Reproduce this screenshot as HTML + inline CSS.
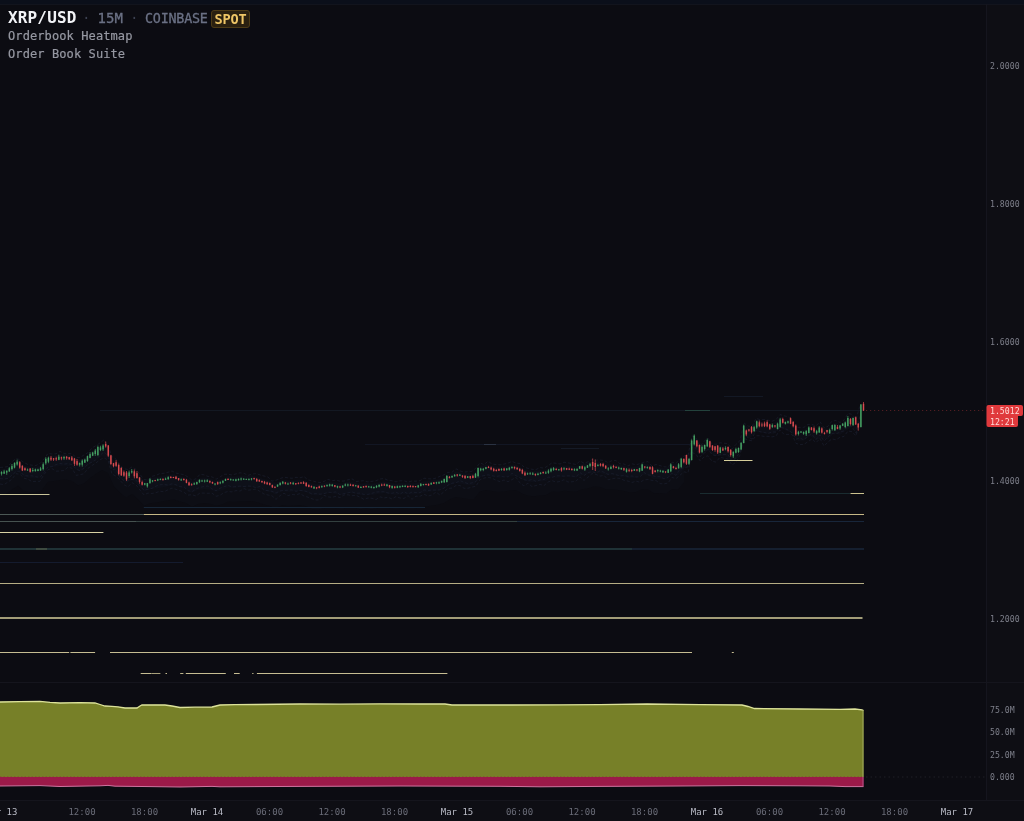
<!DOCTYPE html>
<html><head><meta charset="utf-8"><title>XRP/USD Orderbook Heatmap</title>
<style>
html,body{margin:0;padding:0;background:#0c0c12;}
body{width:1024px;height:821px;overflow:hidden;position:relative;font-family:"DejaVu Sans Mono","Liberation Mono",monospace;}
#top{position:absolute;left:0;top:0;width:1024px;height:4px;background:#0b0f1a;border-bottom:1px solid #12141d;}
#chart{position:absolute;left:0;top:0;}
.hdr{position:absolute;left:8px;top:8px;height:20px;line-height:20px;white-space:nowrap;}
.sym{font-size:16px;font-weight:bold;color:#f2f3f7;letter-spacing:0.15px;}
.dim{font-size:13.4px;color:#6b7185;letter-spacing:-0.23px;-webkit-text-stroke:0.3px #6b7185;top:9px;}
.tf{font-size:14px;letter-spacing:0;top:7.6px;}
.dot{color:#3d4252;-webkit-text-stroke:0;}
.spot{position:absolute;left:211px;top:10px;width:39px;height:18px;box-sizing:border-box;border:1px solid #4d3b16;border-radius:3px;background:#2a2010;color:#eec566;font-size:13.6px;font-weight:bold;line-height:16px;text-align:center;letter-spacing:-0.2px;}
.sub{position:absolute;left:8px;font-size:12px;color:#9698a2;white-space:nowrap;line-height:14px;letter-spacing:0.1px;-webkit-text-stroke:0.2px #9698a2;}
</style></head><body>
<div id="top"></div>
<svg id="chart" width="1024" height="821" viewBox="0 0 1024 821">
<polygon fill="#141828" opacity="0.16" points="0.0,469.0 6.0,468.0 12.0,463.5 18.0,459.7 24.0,464.8 30.0,466.2 36.0,466.3 42.0,464.0 48.0,455.8 54.0,454.9 60.0,454.0 66.0,453.6 72.0,455.0 78.0,459.2 84.0,457.6 90.0,452.0 96.0,447.8 102.0,444.0 108.0,446.9 114.0,460.5 120.0,466.5 126.0,471.7 132.0,468.0 138.0,473.3 144.0,479.8 150.0,477.2 156.0,476.4 162.0,475.4 168.0,474.3 174.0,473.5 180.0,475.6 186.0,477.0 192.0,480.7 198.0,478.0 204.0,477.0 210.0,477.8 216.0,479.7 222.0,478.5 228.0,475.4 234.0,476.0 240.0,475.2 246.0,475.3 252.0,474.9 258.0,476.5 264.0,478.4 270.0,480.0 276.0,482.6 282.0,479.0 288.0,480.0 294.0,479.6 300.0,479.0 306.0,480.3 312.0,483.0 318.0,483.5 324.0,482.2 330.0,481.0 336.0,482.3 342.0,483.0 348.0,481.0 354.0,481.5 360.0,483.2 366.0,482.6 372.0,483.2 378.0,482.0 384.0,481.0 390.0,482.3 396.0,483.1 402.0,482.3 408.0,482.5 414.0,482.6 420.0,481.4 426.0,480.6 432.0,479.6 438.0,478.8 444.0,477.0 450.0,473.2 456.0,471.0 462.0,472.0 468.0,473.0 474.0,473.0 480.0,465.4 486.0,464.0 492.0,465.0 498.0,466.1 504.0,465.4 510.0,464.4 516.0,464.1 522.0,467.5 528.0,469.8 534.0,470.3 540.0,469.5 546.0,469.0 552.0,465.5 558.0,466.0 564.0,464.8 570.0,465.3 576.0,465.8 582.0,463.3 588.0,462.3 594.0,460.6 600.0,461.0 606.0,463.3 612.0,463.2 618.0,464.0 624.0,465.0 630.0,466.5 636.0,466.0 642.0,463.2 648.0,463.5 654.0,467.2 660.0,467.0 666.0,467.8 672.0,463.0 678.0,463.5 684.0,456.5 684.0,482.5 678.0,489.5 672.0,489.0 666.0,493.8 660.0,493.0 654.0,493.2 648.0,489.5 642.0,489.2 636.0,492.0 630.0,492.5 624.0,491.0 618.0,490.0 612.0,489.2 606.0,489.3 600.0,487.0 594.0,486.6 588.0,488.3 582.0,489.3 576.0,491.8 570.0,491.3 564.0,490.8 558.0,492.0 552.0,491.5 546.0,495.0 540.0,495.5 534.0,496.3 528.0,495.8 522.0,493.5 516.0,490.1 510.0,490.4 504.0,491.4 498.0,492.1 492.0,491.0 486.0,490.0 480.0,491.4 474.0,499.0 468.0,499.0 462.0,498.0 456.0,497.0 450.0,499.2 444.0,503.0 438.0,504.8 432.0,505.6 426.0,506.6 420.0,507.4 414.0,508.6 408.0,508.5 402.0,508.3 396.0,509.1 390.0,508.3 384.0,507.0 378.0,508.0 372.0,509.2 366.0,508.6 360.0,509.2 354.0,507.5 348.0,507.0 342.0,509.0 336.0,508.3 330.0,507.0 324.0,508.2 318.0,509.5 312.0,509.0 306.0,506.3 300.0,505.0 294.0,505.6 288.0,506.0 282.0,505.0 276.0,508.6 270.0,506.0 264.0,504.4 258.0,502.5 252.0,500.9 246.0,501.3 240.0,501.2 234.0,502.0 228.0,501.4 222.0,504.5 216.0,505.7 210.0,503.8 204.0,503.0 198.0,504.0 192.0,506.7 186.0,503.0 180.0,501.6 174.0,499.5 168.0,500.3 162.0,501.4 156.0,502.4 150.0,503.2 144.0,505.8 138.0,499.3 132.0,494.0 126.0,497.7 120.0,492.5 114.0,486.5 108.0,472.9 102.0,470.0 96.0,473.8 90.0,478.0 84.0,483.6 78.0,485.2 72.0,481.0 66.0,479.6 60.0,480.0 54.0,480.9 48.0,481.8 42.0,490.0 36.0,492.3 30.0,492.2 24.0,490.8 18.0,485.7 12.0,489.5 6.0,494.0 0.0,495.0"/>
<polygon fill="#161c30" opacity="0.16" points="0.0,470.0 6.0,469.0 12.0,464.5 18.0,460.7 24.0,465.8 30.0,467.2 36.0,467.3 42.0,465.0 48.0,456.8 54.0,455.9 60.0,455.0 66.0,454.6 72.0,456.0 78.0,460.2 84.0,458.6 90.0,453.0 96.0,448.8 102.0,445.0 108.0,447.9 114.0,461.5 120.0,467.5 126.0,472.7 132.0,469.0 138.0,474.3 144.0,480.8 150.0,478.2 156.0,477.4 162.0,476.4 168.0,475.3 174.0,474.5 180.0,476.6 186.0,478.0 192.0,481.7 198.0,479.0 204.0,478.0 210.0,478.8 216.0,480.7 222.0,479.5 228.0,476.4 234.0,477.0 240.0,476.2 246.0,476.3 252.0,475.9 258.0,477.5 264.0,479.4 270.0,481.0 276.0,483.6 282.0,480.0 288.0,481.0 294.0,480.6 300.0,480.0 306.0,481.3 312.0,484.0 318.0,484.5 324.0,483.2 330.0,482.0 336.0,483.3 342.0,484.0 348.0,482.0 354.0,482.5 360.0,484.2 366.0,483.6 372.0,484.2 378.0,483.0 384.0,482.0 390.0,483.3 396.0,484.1 402.0,483.3 408.0,483.5 414.0,483.6 420.0,482.4 426.0,481.6 432.0,480.6 438.0,479.8 444.0,478.0 450.0,474.2 456.0,472.0 462.0,473.0 468.0,474.0 474.0,474.0 480.0,466.4 486.0,465.0 492.0,466.0 498.0,467.1 504.0,466.4 510.0,465.4 516.0,465.1 522.0,468.5 528.0,470.8 534.0,471.3 540.0,470.5 546.0,470.0 552.0,466.5 558.0,467.0 564.0,465.8 570.0,466.3 576.0,466.8 582.0,464.3 588.0,463.3 594.0,461.6 600.0,462.0 606.0,464.3 612.0,464.2 618.0,465.0 624.0,466.0 630.0,467.5 636.0,467.0 642.0,464.2 648.0,464.5 654.0,468.2 660.0,468.0 666.0,468.8 672.0,464.0 678.0,464.5 684.0,457.5 690.0,450.7 696.0,439.2 702.0,444.0 708.0,439.9 714.0,445.2 720.0,445.0 726.0,445.7 732.0,451.3 738.0,447.0 744.0,424.2 750.0,427.8 756.0,421.1 762.0,422.0 768.0,422.8 774.0,423.0 780.0,416.5 786.0,419.8 792.0,422.0 798.0,430.0 804.0,429.8 810.0,425.3 816.0,429.0 822.0,427.8 828.0,428.4 834.0,422.5 840.0,424.0 846.0,419.7 852.0,416.0 858.0,420.7 858.0,431.7 852.0,427.0 846.0,430.7 840.0,435.0 834.0,433.5 828.0,439.4 822.0,438.8 816.0,440.0 810.0,436.3 804.0,440.8 798.0,441.0 792.0,433.0 786.0,430.8 780.0,427.5 774.0,434.0 768.0,433.8 762.0,433.0 756.0,432.1 750.0,438.8 744.0,435.2 738.0,458.0 732.0,462.3 726.0,456.7 720.0,456.0 714.0,456.2 708.0,450.9 702.0,455.0 696.0,450.2 690.0,461.7 684.0,468.5 678.0,475.5 672.0,475.0 666.0,479.8 660.0,479.0 654.0,479.2 648.0,475.5 642.0,475.2 636.0,478.0 630.0,478.5 624.0,477.0 618.0,476.0 612.0,475.2 606.0,475.3 600.0,473.0 594.0,472.6 588.0,474.3 582.0,475.3 576.0,477.8 570.0,477.3 564.0,476.8 558.0,478.0 552.0,477.5 546.0,481.0 540.0,481.5 534.0,482.3 528.0,481.8 522.0,479.5 516.0,476.1 510.0,476.4 504.0,477.4 498.0,478.1 492.0,477.0 486.0,476.0 480.0,477.4 474.0,485.0 468.0,485.0 462.0,484.0 456.0,483.0 450.0,485.2 444.0,489.0 438.0,490.8 432.0,491.6 426.0,492.6 420.0,493.4 414.0,494.6 408.0,494.5 402.0,494.3 396.0,495.1 390.0,494.3 384.0,493.0 378.0,494.0 372.0,495.2 366.0,494.6 360.0,495.2 354.0,493.5 348.0,493.0 342.0,495.0 336.0,494.3 330.0,493.0 324.0,494.2 318.0,495.5 312.0,495.0 306.0,492.3 300.0,491.0 294.0,491.6 288.0,492.0 282.0,491.0 276.0,494.6 270.0,492.0 264.0,490.4 258.0,488.5 252.0,486.9 246.0,487.3 240.0,487.2 234.0,488.0 228.0,487.4 222.0,490.5 216.0,491.7 210.0,489.8 204.0,489.0 198.0,490.0 192.0,492.7 186.0,489.0 180.0,487.6 174.0,485.5 168.0,486.3 162.0,487.4 156.0,488.4 150.0,489.2 144.0,491.8 138.0,485.3 132.0,480.0 126.0,483.7 120.0,478.5 114.0,472.5 108.0,458.9 102.0,456.0 96.0,459.8 90.0,464.0 84.0,469.6 78.0,471.2 72.0,467.0 66.0,465.6 60.0,466.0 54.0,466.9 48.0,467.8 42.0,476.0 36.0,478.3 30.0,478.2 24.0,476.8 18.0,471.7 12.0,475.5 6.0,480.0 0.0,481.0"/>
<polyline fill="none" stroke="#1b2030" stroke-width="0.8" opacity="0.8" stroke-dasharray="3 2" points="0.0,467.4 4.0,467.2 8.0,466.5 12.0,461.9 16.0,458.4 20.0,459.7 24.0,462.5 28.0,464.6 32.0,465.2 36.0,465.5 40.0,463.5 44.0,458.9 48.0,453.4 52.0,454.0 56.0,453.8 60.0,451.4 64.0,453.4 68.0,453.4 72.0,453.9 76.0,457.3 80.0,457.7 84.0,454.9 88.0,452.6 92.0,448.0 96.0,445.6 100.0,442.9 104.0,439.9 108.0,445.4 112.0,456.6 116.0,459.1 120.0,465.1 124.0,468.8 128.0,469.5 132.0,466.9 136.0,469.4 140.0,474.4 144.0,479.5 148.0,479.8 152.0,476.3 156.0,475.4 160.0,473.5 164.0,473.3 168.0,472.3 172.0,471.0 176.0,473.1 180.0,473.9 184.0,474.7 188.0,477.1 192.0,480.3 196.0,478.7 200.0,474.3 204.0,474.8 208.0,476.5 212.0,476.9 216.0,479.3 220.0,477.0 224.0,474.3 228.0,474.2 232.0,475.0 236.0,473.9 240.0,472.8 244.0,473.3 248.0,475.4 252.0,474.1 256.0,473.6 260.0,474.9 264.0,476.0 268.0,477.0 272.0,481.1 276.0,480.3 280.0,478.6 284.0,477.2 288.0,477.8 292.0,478.3 296.0,477.3 300.0,477.8 304.0,476.6 308.0,479.9 312.0,480.8 316.0,481.9 320.0,482.6 324.0,481.4 328.0,479.4 332.0,480.7 336.0,480.1 340.0,481.2 344.0,481.0 348.0,479.8 352.0,478.8 356.0,481.6 360.0,481.0 364.0,480.7 368.0,482.0 372.0,481.3 376.0,480.8 380.0,479.0 384.0,478.5 388.0,480.3 392.0,480.7 396.0,481.9 400.0,480.8 404.0,480.8 408.0,482.1 412.0,481.0 416.0,481.2 420.0,480.7 424.0,478.2 428.0,478.7 432.0,479.0 436.0,478.1 440.0,476.3 444.0,474.8 448.0,472.4 452.0,472.3 456.0,468.8 460.0,470.9 464.0,472.1 468.0,471.7 472.0,471.3 476.0,467.9 480.0,462.8 484.0,464.7 488.0,461.2 492.0,464.0 496.0,464.5 500.0,464.9 504.0,464.1 508.0,463.1 512.0,461.4 516.0,463.1 520.0,463.5 524.0,467.0 528.0,468.4 532.0,469.3 536.0,469.6 540.0,467.5 544.0,468.2 548.0,465.8 552.0,462.8 556.0,463.3 560.0,464.0 564.0,462.2 568.0,462.8 572.0,463.7 576.0,464.5 580.0,461.0 584.0,463.2 588.0,461.8 592.0,459.5 596.0,460.1 600.0,460.0 604.0,460.5 608.0,462.6 612.0,460.6 616.0,460.6 620.0,463.8 624.0,464.0 628.0,466.0 632.0,463.8 636.0,464.8 640.0,463.7 644.0,462.1 648.0,461.6 652.0,466.1 656.0,464.5 660.0,465.6 664.0,466.8 668.0,467.0 672.0,462.1 676.0,463.5 680.0,458.7 684.0,456.0 688.0,455.5 692.0,435.9 696.0,437.7 700.0,446.4 704.0,441.3 708.0,438.1 712.0,443.9 716.0,444.3 720.0,442.8 724.0,443.2 728.0,443.7 732.0,449.1 736.0,444.3 740.0,440.5 744.0,422.9 748.0,426.1 752.0,426.5 756.0,418.4 760.0,419.6 764.0,419.5 768.0,420.2 772.0,421.3 776.0,419.7 780.0,414.6 784.0,415.8 788.0,416.7 792.0,419.5 796.0,427.7 800.0,427.3 804.0,427.3 808.0,424.4 812.0,424.5 816.0,425.9 820.0,421.8 824.0,427.8 828.0,426.3 832.0,421.1 836.0,420.5 840.0,422.5 844.0,420.1 848.0,413.4 852.0,414.4 856.0,419.3 860.0,405.4"/>
<polyline fill="none" stroke="#1b2030" stroke-width="0.8" opacity="0.8" stroke-dasharray="3 2" points="0.0,478.6 4.0,478.9 8.0,478.4 12.0,475.2 16.0,471.5 20.0,471.2 24.0,475.5 28.0,476.0 32.0,475.8 36.0,476.8 40.0,477.5 44.0,472.4 48.0,467.0 52.0,466.6 56.0,464.6 60.0,463.5 64.0,464.1 68.0,463.6 72.0,464.6 76.0,468.7 80.0,470.9 84.0,468.1 88.0,463.9 92.0,462.1 96.0,459.7 100.0,455.4 104.0,451.8 108.0,456.0 112.0,469.8 116.0,468.9 120.0,477.6 124.0,480.7 128.0,480.9 132.0,479.4 136.0,480.0 140.0,485.8 144.0,490.2 148.0,489.2 152.0,488.4 156.0,486.1 160.0,484.8 164.0,484.5 168.0,485.1 172.0,483.8 176.0,484.8 180.0,486.6 184.0,486.8 188.0,490.7 192.0,491.7 196.0,488.9 200.0,487.4 204.0,486.5 208.0,486.0 212.0,488.9 216.0,490.8 220.0,488.3 224.0,486.7 228.0,485.4 232.0,487.0 236.0,486.6 240.0,486.1 244.0,486.5 248.0,486.0 252.0,486.3 256.0,487.7 260.0,486.3 264.0,490.2 268.0,490.7 272.0,491.3 276.0,493.0 280.0,490.9 284.0,490.5 288.0,490.1 292.0,489.9 296.0,491.3 300.0,490.4 304.0,490.8 308.0,492.0 312.0,494.0 316.0,493.6 320.0,494.2 324.0,493.7 328.0,492.3 332.0,492.5 336.0,491.9 340.0,494.7 344.0,493.6 348.0,492.9 352.0,491.9 356.0,493.3 360.0,493.1 364.0,494.5 368.0,494.4 372.0,493.3 376.0,492.0 380.0,491.8 384.0,491.7 388.0,493.0 392.0,493.3 396.0,492.2 400.0,494.1 404.0,491.6 408.0,493.9 412.0,492.1 416.0,492.6 420.0,492.7 424.0,489.9 428.0,490.4 432.0,490.1 436.0,490.0 440.0,489.9 444.0,488.1 448.0,485.1 452.0,483.2 456.0,482.8 460.0,480.6 464.0,482.3 468.0,483.6 472.0,482.9 476.0,481.5 480.0,476.3 484.0,475.6 488.0,474.8 492.0,475.7 496.0,476.5 500.0,475.8 504.0,476.9 508.0,476.8 512.0,473.3 516.0,475.7 520.0,477.9 524.0,479.7 528.0,480.5 532.0,479.5 536.0,481.4 540.0,480.0 544.0,479.5 548.0,477.1 552.0,477.4 556.0,475.9 560.0,475.8 564.0,476.2 568.0,475.8 572.0,476.0 576.0,476.9 580.0,472.6 584.0,475.6 588.0,472.6 592.0,471.7 596.0,473.0 600.0,470.8 604.0,472.2 608.0,474.4 612.0,473.5 616.0,474.7 620.0,476.0 624.0,475.4 628.0,476.4 632.0,476.0 636.0,476.9 640.0,477.0 644.0,472.5 648.0,474.9 652.0,475.5 656.0,476.6 660.0,476.7 664.0,478.8 668.0,477.5 672.0,473.1 676.0,475.4 680.0,468.8 684.0,467.7 688.0,466.8 692.0,447.5 696.0,448.0 700.0,456.6 704.0,453.6 708.0,449.2 712.0,454.6 716.0,455.8 720.0,454.6 724.0,454.5 728.0,454.6 732.0,461.2 736.0,457.7 740.0,452.3 744.0,434.8 748.0,437.5 752.0,439.1 756.0,429.8 760.0,431.7 764.0,432.3 768.0,433.5 772.0,431.9 776.0,432.1 780.0,427.3 784.0,428.1 788.0,430.0 792.0,432.7 796.0,439.2 800.0,438.1 804.0,440.0 808.0,435.4 812.0,434.3 816.0,439.5 820.0,434.8 824.0,441.2 828.0,436.8 832.0,433.5 836.0,433.9 840.0,432.1 844.0,430.8 848.0,426.0 852.0,426.7 856.0,433.1 860.0,415.8"/>
<polyline fill="none" stroke="#1b2030" stroke-width="0.8" opacity="0.8" stroke-dasharray="3 2" points="0.0,484.0 4.0,484.6 8.0,482.0 12.0,479.2 16.0,473.7 20.0,474.3 24.0,478.2 28.0,479.2 32.0,481.6 36.0,481.3 40.0,481.3 44.0,474.5 48.0,469.6 52.0,468.6 56.0,471.2 60.0,471.0 64.0,470.4 68.0,467.2 72.0,468.2 76.0,475.3 80.0,474.8 84.0,473.7 88.0,468.3 92.0,465.5 96.0,462.9 100.0,459.7 104.0,457.9 108.0,460.0 112.0,474.0 116.0,476.2 120.0,480.2 124.0,484.8 128.0,486.9 132.0,482.6 136.0,484.8 140.0,490.1 144.0,494.9 148.0,493.1 152.0,493.5 156.0,492.6 160.0,491.2 164.0,491.8 168.0,489.8 172.0,488.1 176.0,489.3 180.0,490.6 184.0,492.3 188.0,495.1 192.0,494.7 196.0,496.0 200.0,493.0 204.0,493.1 208.0,493.3 212.0,493.1 216.0,496.3 220.0,495.3 224.0,492.6 228.0,491.5 232.0,491.9 236.0,490.6 240.0,491.1 244.0,488.5 248.0,490.2 252.0,489.8 256.0,489.0 260.0,491.4 264.0,494.0 268.0,495.0 272.0,495.8 276.0,499.4 280.0,495.7 284.0,493.2 288.0,495.6 292.0,494.5 296.0,494.8 300.0,493.6 304.0,496.0 308.0,497.2 312.0,498.8 316.0,500.0 320.0,499.9 324.0,495.3 328.0,496.9 332.0,497.3 336.0,496.3 340.0,497.6 344.0,494.9 348.0,494.8 352.0,495.7 356.0,495.3 360.0,497.2 364.0,499.4 368.0,498.0 372.0,498.3 376.0,499.6 380.0,496.8 384.0,498.0 388.0,497.2 392.0,499.0 396.0,496.5 400.0,498.0 404.0,498.4 408.0,495.7 412.0,499.3 416.0,496.2 420.0,496.3 424.0,494.2 428.0,496.0 432.0,495.0 436.0,492.0 440.0,495.1 444.0,491.7 448.0,488.4 452.0,488.1 456.0,485.5 460.0,485.5 464.0,488.3 468.0,488.2 472.0,487.1 476.0,486.2 480.0,479.6 484.0,478.1 488.0,477.3 492.0,478.2 496.0,480.2 500.0,481.7 504.0,480.0 508.0,481.7 512.0,479.6 516.0,477.3 520.0,483.0 524.0,485.9 528.0,483.1 532.0,486.6 536.0,485.5 540.0,484.4 544.0,485.6 548.0,482.0 552.0,480.6 556.0,482.1 560.0,481.5 564.0,479.7 568.0,482.0 572.0,481.8 576.0,481.2 580.0,476.9 584.0,480.5 588.0,477.2 592.0,473.6 596.0,474.4 600.0,476.1 604.0,475.3 608.0,479.8 612.0,478.8 616.0,478.1 620.0,478.4 624.0,480.3 628.0,481.1 632.0,482.5 636.0,481.1 640.0,482.3 644.0,479.9 648.0,479.5 652.0,480.4 656.0,480.5 660.0,483.6 664.0,483.9 668.0,483.0 672.0,477.4 676.0,478.6 680.0,475.2 684.0,471.8 688.0,472.8 692.0,452.5 696.0,454.2 700.0,460.8 704.0,457.0 708.0,455.8 712.0,461.2 716.0,462.1 720.0,457.2 724.0,458.2 728.0,459.1 732.0,465.0 736.0,462.3 740.0,455.1 744.0,438.4 748.0,440.0 752.0,440.8 756.0,435.8 760.0,435.7 764.0,436.4 768.0,436.3 772.0,436.9 776.0,436.0 780.0,429.9 784.0,434.4 788.0,434.4 792.0,434.3 796.0,443.3 800.0,444.6 804.0,444.3 808.0,441.7 812.0,438.9 816.0,442.7 820.0,438.5 824.0,446.0 828.0,441.9 832.0,438.9 836.0,439.8 840.0,437.3 844.0,436.4 848.0,431.0 852.0,431.7 856.0,435.9 860.0,420.9"/>
<line x1="100.0" y1="410.5" x2="864.0" y2="410.5" stroke="#131822" stroke-width="1.0" opacity="1"/>
<line x1="685.0" y1="410.5" x2="710.0" y2="410.5" stroke="#23423c" stroke-width="1.0" opacity="1"/>
<line x1="724.0" y1="396.5" x2="763.0" y2="396.5" stroke="#131824" stroke-width="1.0" opacity="1"/>
<line x1="365.0" y1="444.5" x2="690.0" y2="444.5" stroke="#121623" stroke-width="1.0" opacity="1"/>
<line x1="561.0" y1="448.5" x2="599.0" y2="448.5" stroke="#151a26" stroke-width="1.0" opacity="1"/>
<line x1="484.0" y1="444.5" x2="496.0" y2="444.5" stroke="#2a3242" stroke-width="1.0" opacity="1"/>
<line x1="724.0" y1="460.5" x2="752.5" y2="460.5" stroke="#d6ce9a" stroke-width="1.0" opacity="1"/>
<line x1="700.0" y1="493.5" x2="850.0" y2="493.5" stroke="#1a2c30" stroke-width="1.0" opacity="1"/>
<line x1="850.5" y1="493.5" x2="864.0" y2="493.5" stroke="#cbc28e" stroke-width="1.0" opacity="1"/>
<line x1="0.0" y1="494.5" x2="49.5" y2="494.5" stroke="#c9c49a" stroke-width="1.0" opacity="1"/>
<line x1="143.8" y1="507.5" x2="425.0" y2="507.5" stroke="#172637" stroke-width="1.0" opacity="1"/>
<line x1="0.0" y1="514.5" x2="143.8" y2="514.5" stroke="#4c5855" stroke-width="1.0" opacity="1"/>
<line x1="143.8" y1="514.5" x2="864.0" y2="514.5" stroke="#c6b886" stroke-width="1.0" opacity="1"/>
<line x1="0.0" y1="521.5" x2="136.0" y2="521.5" stroke="#465250" stroke-width="1.0" opacity="1"/>
<line x1="136.0" y1="521.5" x2="517.0" y2="521.5" stroke="#33403f" stroke-width="1.0" opacity="1"/>
<line x1="517.0" y1="521.5" x2="864.0" y2="521.5" stroke="#18263a" stroke-width="1.0" opacity="1"/>
<line x1="0.0" y1="532.5" x2="103.4" y2="532.5" stroke="#d8d2a4" stroke-width="1.0" opacity="1"/>
<line x1="0.0" y1="549.0" x2="632.0" y2="549.0" stroke="#1f3236" stroke-width="2.0" opacity="1"/>
<line x1="36.0" y1="549.0" x2="47.0" y2="549.0" stroke="#3d4a40" stroke-width="2.0" opacity="1"/>
<line x1="632.0" y1="549.0" x2="864.0" y2="549.0" stroke="#151f2f" stroke-width="2.0" opacity="1"/>
<line x1="0.0" y1="562.5" x2="183.0" y2="562.5" stroke="#141b2e" stroke-width="1.0" opacity="1"/>
<line x1="0.0" y1="583.5" x2="864.0" y2="583.5" stroke="#b6ae84" stroke-width="1.0" opacity="1"/>
<line x1="0.0" y1="618.0" x2="862.5" y2="618.0" stroke="#a39d78" stroke-width="2.0" opacity="1"/>
<line x1="0.0" y1="652.5" x2="69.2" y2="652.5" stroke="#c6bd92" stroke-width="1.0" opacity="1"/>
<line x1="70.4" y1="652.5" x2="95.1" y2="652.5" stroke="#c6bd92" stroke-width="1.0" opacity="1"/>
<line x1="110.0" y1="652.5" x2="692.0" y2="652.5" stroke="#c6bd92" stroke-width="1.0" opacity="1"/>
<line x1="731.8" y1="652.5" x2="733.8" y2="652.5" stroke="#c6bd92" stroke-width="1.0" opacity="1"/>
<line x1="140.7" y1="673.5" x2="151.5" y2="673.5" stroke="#c6bd92" stroke-width="1.0" opacity="1"/>
<line x1="151.5" y1="673.5" x2="160.4" y2="673.5" stroke="#a8a07a" stroke-width="1.0" opacity="1"/>
<line x1="165.5" y1="673.5" x2="167.0" y2="673.5" stroke="#c6bd92" stroke-width="1.0" opacity="1"/>
<line x1="180.2" y1="673.5" x2="183.4" y2="673.5" stroke="#bdb58a" stroke-width="1.0" opacity="1"/>
<line x1="185.8" y1="673.5" x2="225.8" y2="673.5" stroke="#c6bd92" stroke-width="1.0" opacity="1"/>
<line x1="234.0" y1="673.5" x2="239.7" y2="673.5" stroke="#c6bd92" stroke-width="1.0" opacity="1"/>
<line x1="252.2" y1="673.5" x2="253.5" y2="673.5" stroke="#bdb58a" stroke-width="1.0" opacity="1"/>
<line x1="256.9" y1="673.5" x2="447.4" y2="673.5" stroke="#c6bd92" stroke-width="1.0" opacity="1"/>
<line x1="866" y1="410.5" x2="986" y2="410.5" stroke="#b8383a" stroke-width="1" stroke-dasharray="1.2 2.8" opacity="0.4"/>
<line x1="-1.08" y1="470.1" x2="-1.08" y2="474.8" stroke="#e24e52" stroke-width="0.8" opacity="0.85"/>
<rect x="-1.83" y="471.9" width="1.5" height="2.2" fill="#e24e52" opacity="0.86"/>
<line x1="1.52" y1="471.2" x2="1.52" y2="475.5" stroke="#48a866" stroke-width="0.8" opacity="0.85"/>
<rect x="0.77" y="472.0" width="1.5" height="1.8" fill="#48a866" opacity="0.86"/>
<line x1="4.12" y1="469.8" x2="4.12" y2="474.0" stroke="#48a866" stroke-width="0.8" opacity="0.85"/>
<rect x="3.38" y="471.5" width="1.5" height="2.1" fill="#48a866" opacity="0.86"/>
<line x1="6.73" y1="470.5" x2="6.73" y2="474.8" stroke="#48a866" stroke-width="0.8" opacity="0.85"/>
<rect x="5.98" y="470.7" width="1.5" height="1.9" fill="#48a866" opacity="0.86"/>
<line x1="9.33" y1="467.1" x2="9.33" y2="472.0" stroke="#48a866" stroke-width="0.8" opacity="0.85"/>
<rect x="8.58" y="468.3" width="1.5" height="3.1" fill="#48a866" opacity="0.86"/>
<line x1="11.94" y1="464.0" x2="11.94" y2="470.5" stroke="#48a866" stroke-width="0.8" opacity="0.85"/>
<rect x="11.19" y="466.1" width="1.5" height="3.0" fill="#48a866" opacity="0.86"/>
<line x1="14.54" y1="462.3" x2="14.54" y2="468.4" stroke="#48a866" stroke-width="0.8" opacity="0.85"/>
<rect x="13.79" y="462.9" width="1.5" height="4.7" fill="#48a866" opacity="0.86"/>
<line x1="17.15" y1="459.6" x2="17.15" y2="465.7" stroke="#48a866" stroke-width="0.8" opacity="0.85"/>
<rect x="16.40" y="461.7" width="1.5" height="2.8" fill="#48a866" opacity="0.86"/>
<line x1="19.75" y1="461.1" x2="19.75" y2="468.7" stroke="#e24e52" stroke-width="0.8" opacity="0.85"/>
<rect x="19.00" y="462.2" width="1.5" height="5.4" fill="#e24e52" opacity="0.86"/>
<line x1="22.35" y1="465.2" x2="22.35" y2="471.1" stroke="#e24e52" stroke-width="0.8" opacity="0.85"/>
<rect x="21.60" y="465.8" width="1.5" height="4.7" fill="#e24e52" opacity="0.86"/>
<line x1="24.96" y1="467.4" x2="24.96" y2="470.9" stroke="#e24e52" stroke-width="0.8" opacity="0.85"/>
<rect x="24.21" y="468.3" width="1.5" height="1.7" fill="#e24e52" opacity="0.86"/>
<line x1="27.56" y1="468.5" x2="27.56" y2="470.8" stroke="#48a866" stroke-width="0.8" opacity="0.85"/>
<rect x="26.81" y="469.5" width="1.5" height="1.0" fill="#48a866" opacity="0.86"/>
<line x1="30.17" y1="468.0" x2="30.17" y2="472.6" stroke="#e24e52" stroke-width="0.8" opacity="0.85"/>
<rect x="29.42" y="468.6" width="1.5" height="3.2" fill="#e24e52" opacity="0.86"/>
<line x1="32.77" y1="467.9" x2="32.77" y2="472.2" stroke="#48a866" stroke-width="0.8" opacity="0.85"/>
<rect x="32.02" y="470.0" width="1.5" height="1.0" fill="#48a866" opacity="0.86"/>
<line x1="35.38" y1="468.6" x2="35.38" y2="471.6" stroke="#48a866" stroke-width="0.8" opacity="0.85"/>
<rect x="34.62" y="469.4" width="1.5" height="1.8" fill="#48a866" opacity="0.86"/>
<line x1="37.98" y1="468.7" x2="37.98" y2="471.3" stroke="#48a866" stroke-width="0.8" opacity="0.85"/>
<rect x="37.23" y="469.4" width="1.5" height="1.6" fill="#48a866" opacity="0.86"/>
<line x1="40.58" y1="466.9" x2="40.58" y2="470.9" stroke="#48a866" stroke-width="0.8" opacity="0.85"/>
<rect x="39.83" y="468.3" width="1.5" height="2.2" fill="#48a866" opacity="0.86"/>
<line x1="43.19" y1="462.4" x2="43.19" y2="470.4" stroke="#48a866" stroke-width="0.8" opacity="0.85"/>
<rect x="42.44" y="464.2" width="1.5" height="4.9" fill="#48a866" opacity="0.86"/>
<line x1="45.79" y1="457.2" x2="45.79" y2="464.7" stroke="#48a866" stroke-width="0.8" opacity="0.85"/>
<rect x="45.04" y="458.8" width="1.5" height="4.5" fill="#48a866" opacity="0.86"/>
<line x1="48.40" y1="456.7" x2="48.40" y2="463.2" stroke="#48a866" stroke-width="0.8" opacity="0.85"/>
<rect x="47.65" y="457.7" width="1.5" height="4.0" fill="#48a866" opacity="0.86"/>
<line x1="51.00" y1="455.9" x2="51.00" y2="461.0" stroke="#e24e52" stroke-width="0.8" opacity="0.85"/>
<rect x="50.25" y="457.7" width="1.5" height="1.9" fill="#e24e52" opacity="0.86"/>
<line x1="53.60" y1="458.0" x2="53.60" y2="461.0" stroke="#e24e52" stroke-width="0.8" opacity="0.85"/>
<rect x="52.85" y="458.3" width="1.5" height="1.3" fill="#e24e52" opacity="0.86"/>
<line x1="56.21" y1="456.7" x2="56.21" y2="460.9" stroke="#e24e52" stroke-width="0.8" opacity="0.85"/>
<rect x="55.46" y="458.2" width="1.5" height="1.2" fill="#e24e52" opacity="0.86"/>
<line x1="58.81" y1="454.7" x2="58.81" y2="460.2" stroke="#48a866" stroke-width="0.8" opacity="0.85"/>
<rect x="58.06" y="456.7" width="1.5" height="3.1" fill="#48a866" opacity="0.86"/>
<line x1="61.42" y1="456.6" x2="61.42" y2="460.2" stroke="#e24e52" stroke-width="0.8" opacity="0.85"/>
<rect x="60.67" y="457.3" width="1.5" height="1.2" fill="#e24e52" opacity="0.86"/>
<line x1="64.02" y1="455.9" x2="64.02" y2="459.9" stroke="#48a866" stroke-width="0.8" opacity="0.85"/>
<rect x="63.27" y="457.0" width="1.5" height="1.4" fill="#48a866" opacity="0.86"/>
<line x1="66.62" y1="456.0" x2="66.62" y2="459.7" stroke="#e24e52" stroke-width="0.8" opacity="0.85"/>
<rect x="65.88" y="456.8" width="1.5" height="1.4" fill="#e24e52" opacity="0.86"/>
<line x1="69.23" y1="456.9" x2="69.23" y2="459.9" stroke="#e24e52" stroke-width="0.8" opacity="0.85"/>
<rect x="68.48" y="457.2" width="1.5" height="2.0" fill="#e24e52" opacity="0.86"/>
<line x1="71.83" y1="456.0" x2="71.83" y2="461.1" stroke="#e24e52" stroke-width="0.8" opacity="0.85"/>
<rect x="71.08" y="457.5" width="1.5" height="2.8" fill="#e24e52" opacity="0.86"/>
<line x1="74.44" y1="457.9" x2="74.44" y2="465.9" stroke="#e24e52" stroke-width="0.8" opacity="0.85"/>
<rect x="73.69" y="458.5" width="1.5" height="5.3" fill="#e24e52" opacity="0.86"/>
<line x1="77.04" y1="459.0" x2="77.04" y2="465.8" stroke="#e24e52" stroke-width="0.8" opacity="0.85"/>
<rect x="76.29" y="461.1" width="1.5" height="3.6" fill="#e24e52" opacity="0.86"/>
<line x1="79.65" y1="462.6" x2="79.65" y2="466.5" stroke="#48a866" stroke-width="0.8" opacity="0.85"/>
<rect x="78.90" y="462.9" width="1.5" height="1.9" fill="#48a866" opacity="0.86"/>
<line x1="82.25" y1="459.4" x2="82.25" y2="466.6" stroke="#48a866" stroke-width="0.8" opacity="0.85"/>
<rect x="81.50" y="460.6" width="1.5" height="4.1" fill="#48a866" opacity="0.86"/>
<line x1="84.85" y1="458.7" x2="84.85" y2="463.0" stroke="#48a866" stroke-width="0.8" opacity="0.85"/>
<rect x="84.10" y="459.7" width="1.5" height="2.9" fill="#48a866" opacity="0.86"/>
<line x1="87.46" y1="455.6" x2="87.46" y2="461.9" stroke="#48a866" stroke-width="0.8" opacity="0.85"/>
<rect x="86.71" y="456.1" width="1.5" height="4.9" fill="#48a866" opacity="0.86"/>
<line x1="90.06" y1="452.2" x2="90.06" y2="458.3" stroke="#48a866" stroke-width="0.8" opacity="0.85"/>
<rect x="89.31" y="454.1" width="1.5" height="3.8" fill="#48a866" opacity="0.86"/>
<line x1="92.67" y1="451.8" x2="92.67" y2="456.1" stroke="#48a866" stroke-width="0.8" opacity="0.85"/>
<rect x="91.92" y="452.5" width="1.5" height="3.2" fill="#48a866" opacity="0.86"/>
<line x1="95.27" y1="448.9" x2="95.27" y2="455.9" stroke="#48a866" stroke-width="0.8" opacity="0.85"/>
<rect x="94.52" y="450.6" width="1.5" height="3.4" fill="#48a866" opacity="0.86"/>
<line x1="97.88" y1="445.6" x2="97.88" y2="456.1" stroke="#48a866" stroke-width="0.8" opacity="0.85"/>
<rect x="97.12" y="447.0" width="1.5" height="8.0" fill="#48a866" opacity="0.86"/>
<line x1="100.48" y1="445.7" x2="100.48" y2="451.1" stroke="#48a866" stroke-width="0.8" opacity="0.85"/>
<rect x="99.73" y="447.4" width="1.5" height="2.6" fill="#48a866" opacity="0.86"/>
<line x1="103.08" y1="444.2" x2="103.08" y2="451.0" stroke="#48a866" stroke-width="0.8" opacity="0.85"/>
<rect x="102.33" y="445.5" width="1.5" height="3.9" fill="#48a866" opacity="0.86"/>
<line x1="105.69" y1="441.5" x2="105.69" y2="447.7" stroke="#e24e52" stroke-width="0.8" opacity="0.85"/>
<rect x="104.94" y="444.0" width="1.5" height="2.5" fill="#e24e52" opacity="0.86"/>
<line x1="108.29" y1="445.0" x2="108.29" y2="456.9" stroke="#e24e52" stroke-width="0.8" opacity="0.85"/>
<rect x="107.54" y="445.5" width="1.5" height="10.2" fill="#e24e52" opacity="0.86"/>
<line x1="110.90" y1="454.8" x2="110.90" y2="465.2" stroke="#e24e52" stroke-width="0.8" opacity="0.85"/>
<rect x="110.15" y="455.4" width="1.5" height="8.6" fill="#e24e52" opacity="0.86"/>
<line x1="113.50" y1="462.9" x2="113.50" y2="467.3" stroke="#e24e52" stroke-width="0.8" opacity="0.85"/>
<rect x="112.75" y="463.2" width="1.5" height="3.0" fill="#e24e52" opacity="0.86"/>
<line x1="116.10" y1="460.1" x2="116.10" y2="466.9" stroke="#e24e52" stroke-width="0.8" opacity="0.85"/>
<rect x="115.35" y="462.2" width="1.5" height="3.6" fill="#e24e52" opacity="0.86"/>
<line x1="118.71" y1="463.6" x2="118.71" y2="475.3" stroke="#e24e52" stroke-width="0.8" opacity="0.85"/>
<rect x="117.96" y="465.0" width="1.5" height="9.0" fill="#e24e52" opacity="0.86"/>
<line x1="121.31" y1="467.1" x2="121.31" y2="475.9" stroke="#e24e52" stroke-width="0.8" opacity="0.85"/>
<rect x="120.56" y="468.0" width="1.5" height="7.4" fill="#e24e52" opacity="0.86"/>
<line x1="123.92" y1="470.5" x2="123.92" y2="476.8" stroke="#e24e52" stroke-width="0.8" opacity="0.85"/>
<rect x="123.17" y="472.2" width="1.5" height="3.5" fill="#e24e52" opacity="0.86"/>
<line x1="126.52" y1="471.0" x2="126.52" y2="480.9" stroke="#e24e52" stroke-width="0.8" opacity="0.85"/>
<rect x="125.77" y="472.5" width="1.5" height="7.0" fill="#e24e52" opacity="0.86"/>
<line x1="129.12" y1="470.6" x2="129.12" y2="478.0" stroke="#48a866" stroke-width="0.8" opacity="0.85"/>
<rect x="128.38" y="472.4" width="1.5" height="3.7" fill="#48a866" opacity="0.86"/>
<line x1="131.73" y1="469.0" x2="131.73" y2="473.6" stroke="#48a866" stroke-width="0.8" opacity="0.85"/>
<rect x="130.98" y="471.1" width="1.5" height="1.4" fill="#48a866" opacity="0.86"/>
<line x1="134.33" y1="469.4" x2="134.33" y2="478.4" stroke="#e24e52" stroke-width="0.8" opacity="0.85"/>
<rect x="133.58" y="471.3" width="1.5" height="5.0" fill="#e24e52" opacity="0.86"/>
<line x1="136.94" y1="471.1" x2="136.94" y2="478.5" stroke="#e24e52" stroke-width="0.8" opacity="0.85"/>
<rect x="136.19" y="473.2" width="1.5" height="4.9" fill="#e24e52" opacity="0.86"/>
<line x1="139.54" y1="477.2" x2="139.54" y2="483.7" stroke="#e24e52" stroke-width="0.8" opacity="0.85"/>
<rect x="138.79" y="477.5" width="1.5" height="4.4" fill="#e24e52" opacity="0.86"/>
<line x1="142.15" y1="480.6" x2="142.15" y2="485.5" stroke="#e24e52" stroke-width="0.8" opacity="0.85"/>
<rect x="141.40" y="482.1" width="1.5" height="2.6" fill="#e24e52" opacity="0.86"/>
<line x1="144.75" y1="482.9" x2="144.75" y2="485.4" stroke="#48a866" stroke-width="0.8" opacity="0.85"/>
<rect x="144.00" y="483.3" width="1.5" height="1.4" fill="#48a866" opacity="0.86"/>
<line x1="147.35" y1="482.9" x2="147.35" y2="487.7" stroke="#48a866" stroke-width="0.8" opacity="0.85"/>
<rect x="146.60" y="483.1" width="1.5" height="3.3" fill="#48a866" opacity="0.86"/>
<line x1="149.96" y1="478.2" x2="149.96" y2="483.8" stroke="#48a866" stroke-width="0.8" opacity="0.85"/>
<rect x="149.21" y="479.3" width="1.5" height="3.8" fill="#48a866" opacity="0.86"/>
<line x1="152.56" y1="480.1" x2="152.56" y2="482.3" stroke="#48a866" stroke-width="0.8" opacity="0.85"/>
<rect x="151.81" y="480.4" width="1.5" height="1.1" fill="#48a866" opacity="0.86"/>
<line x1="155.17" y1="479.8" x2="155.17" y2="481.2" stroke="#e24e52" stroke-width="0.8" opacity="0.85"/>
<rect x="154.42" y="480.1" width="1.5" height="1.0" fill="#e24e52" opacity="0.86"/>
<line x1="157.77" y1="478.6" x2="157.77" y2="481.1" stroke="#48a866" stroke-width="0.8" opacity="0.85"/>
<rect x="157.02" y="479.3" width="1.5" height="1.2" fill="#48a866" opacity="0.86"/>
<line x1="160.38" y1="478.4" x2="160.38" y2="480.2" stroke="#48a866" stroke-width="0.8" opacity="0.85"/>
<rect x="159.62" y="478.9" width="1.5" height="1.0" fill="#48a866" opacity="0.86"/>
<line x1="162.98" y1="478.4" x2="162.98" y2="480.8" stroke="#e24e52" stroke-width="0.8" opacity="0.85"/>
<rect x="162.23" y="478.9" width="1.5" height="1.0" fill="#e24e52" opacity="0.86"/>
<line x1="165.58" y1="477.6" x2="165.58" y2="480.0" stroke="#48a866" stroke-width="0.8" opacity="0.85"/>
<rect x="164.83" y="478.6" width="1.5" height="1.2" fill="#48a866" opacity="0.86"/>
<line x1="168.19" y1="476.3" x2="168.19" y2="479.9" stroke="#48a866" stroke-width="0.8" opacity="0.85"/>
<rect x="167.44" y="477.2" width="1.5" height="1.9" fill="#48a866" opacity="0.86"/>
<line x1="170.79" y1="476.1" x2="170.79" y2="478.2" stroke="#e24e52" stroke-width="0.8" opacity="0.85"/>
<rect x="170.04" y="476.9" width="1.5" height="1.2" fill="#e24e52" opacity="0.86"/>
<line x1="173.40" y1="476.8" x2="173.40" y2="478.2" stroke="#e24e52" stroke-width="0.8" opacity="0.85"/>
<rect x="172.65" y="477.0" width="1.5" height="1.0" fill="#e24e52" opacity="0.86"/>
<line x1="176.00" y1="475.9" x2="176.00" y2="479.3" stroke="#e24e52" stroke-width="0.8" opacity="0.85"/>
<rect x="175.25" y="476.8" width="1.5" height="2.2" fill="#e24e52" opacity="0.86"/>
<line x1="178.60" y1="478.0" x2="178.60" y2="480.7" stroke="#e24e52" stroke-width="0.8" opacity="0.85"/>
<rect x="177.85" y="478.1" width="1.5" height="1.8" fill="#e24e52" opacity="0.86"/>
<line x1="181.21" y1="478.5" x2="181.21" y2="480.6" stroke="#48a866" stroke-width="0.8" opacity="0.85"/>
<rect x="180.46" y="479.4" width="1.5" height="1.1" fill="#48a866" opacity="0.86"/>
<line x1="183.81" y1="478.4" x2="183.81" y2="480.5" stroke="#e24e52" stroke-width="0.8" opacity="0.85"/>
<rect x="183.06" y="478.9" width="1.5" height="1.2" fill="#e24e52" opacity="0.86"/>
<line x1="186.42" y1="478.9" x2="186.42" y2="483.3" stroke="#e24e52" stroke-width="0.8" opacity="0.85"/>
<rect x="185.67" y="479.8" width="1.5" height="3.1" fill="#e24e52" opacity="0.86"/>
<line x1="189.02" y1="481.7" x2="189.02" y2="485.9" stroke="#e24e52" stroke-width="0.8" opacity="0.85"/>
<rect x="188.27" y="482.5" width="1.5" height="2.7" fill="#e24e52" opacity="0.86"/>
<line x1="191.62" y1="483.3" x2="191.62" y2="485.5" stroke="#e24e52" stroke-width="0.8" opacity="0.85"/>
<rect x="190.88" y="484.2" width="1.5" height="1.1" fill="#e24e52" opacity="0.86"/>
<line x1="194.23" y1="482.4" x2="194.23" y2="484.9" stroke="#48a866" stroke-width="0.8" opacity="0.85"/>
<rect x="193.48" y="483.3" width="1.5" height="1.2" fill="#48a866" opacity="0.86"/>
<line x1="196.83" y1="481.7" x2="196.83" y2="484.9" stroke="#48a866" stroke-width="0.8" opacity="0.85"/>
<rect x="196.08" y="482.0" width="1.5" height="2.1" fill="#48a866" opacity="0.86"/>
<line x1="199.44" y1="479.5" x2="199.44" y2="483.1" stroke="#48a866" stroke-width="0.8" opacity="0.85"/>
<rect x="198.69" y="479.8" width="1.5" height="2.4" fill="#48a866" opacity="0.86"/>
<line x1="202.04" y1="479.7" x2="202.04" y2="481.8" stroke="#48a866" stroke-width="0.8" opacity="0.85"/>
<rect x="201.29" y="480.5" width="1.5" height="1.0" fill="#48a866" opacity="0.86"/>
<line x1="204.65" y1="479.6" x2="204.65" y2="482.5" stroke="#48a866" stroke-width="0.8" opacity="0.85"/>
<rect x="203.90" y="480.5" width="1.5" height="1.0" fill="#48a866" opacity="0.86"/>
<line x1="207.25" y1="479.3" x2="207.25" y2="481.9" stroke="#48a866" stroke-width="0.8" opacity="0.85"/>
<rect x="206.50" y="480.3" width="1.5" height="1.4" fill="#48a866" opacity="0.86"/>
<line x1="209.85" y1="480.3" x2="209.85" y2="483.2" stroke="#e24e52" stroke-width="0.8" opacity="0.85"/>
<rect x="209.10" y="481.1" width="1.5" height="1.2" fill="#e24e52" opacity="0.86"/>
<line x1="212.46" y1="481.6" x2="212.46" y2="483.8" stroke="#e24e52" stroke-width="0.8" opacity="0.85"/>
<rect x="211.71" y="482.0" width="1.5" height="1.5" fill="#e24e52" opacity="0.86"/>
<line x1="215.06" y1="483.3" x2="215.06" y2="485.4" stroke="#48a866" stroke-width="0.8" opacity="0.85"/>
<rect x="214.31" y="483.5" width="1.5" height="1.0" fill="#48a866" opacity="0.86"/>
<line x1="217.67" y1="481.5" x2="217.67" y2="484.8" stroke="#e24e52" stroke-width="0.8" opacity="0.85"/>
<rect x="216.92" y="482.1" width="1.5" height="2.1" fill="#e24e52" opacity="0.86"/>
<line x1="220.27" y1="481.3" x2="220.27" y2="484.2" stroke="#48a866" stroke-width="0.8" opacity="0.85"/>
<rect x="219.52" y="482.2" width="1.5" height="1.1" fill="#48a866" opacity="0.86"/>
<line x1="222.88" y1="480.2" x2="222.88" y2="483.5" stroke="#48a866" stroke-width="0.8" opacity="0.85"/>
<rect x="222.12" y="480.9" width="1.5" height="1.8" fill="#48a866" opacity="0.86"/>
<line x1="225.48" y1="478.6" x2="225.48" y2="481.0" stroke="#48a866" stroke-width="0.8" opacity="0.85"/>
<rect x="224.73" y="479.1" width="1.5" height="1.6" fill="#48a866" opacity="0.86"/>
<line x1="228.08" y1="478.4" x2="228.08" y2="480.1" stroke="#e24e52" stroke-width="0.8" opacity="0.85"/>
<rect x="227.33" y="478.8" width="1.5" height="1.2" fill="#e24e52" opacity="0.86"/>
<line x1="230.69" y1="478.5" x2="230.69" y2="480.5" stroke="#48a866" stroke-width="0.8" opacity="0.85"/>
<rect x="229.94" y="479.2" width="1.5" height="1.0" fill="#48a866" opacity="0.86"/>
<line x1="233.29" y1="479.3" x2="233.29" y2="480.6" stroke="#48a866" stroke-width="0.8" opacity="0.85"/>
<rect x="232.54" y="479.5" width="1.5" height="1.0" fill="#48a866" opacity="0.86"/>
<line x1="235.90" y1="478.7" x2="235.90" y2="481.4" stroke="#48a866" stroke-width="0.8" opacity="0.85"/>
<rect x="235.15" y="479.3" width="1.5" height="1.5" fill="#48a866" opacity="0.86"/>
<line x1="238.50" y1="478.3" x2="238.50" y2="480.7" stroke="#48a866" stroke-width="0.8" opacity="0.85"/>
<rect x="237.75" y="479.0" width="1.5" height="1.2" fill="#48a866" opacity="0.86"/>
<line x1="241.10" y1="477.6" x2="241.10" y2="480.5" stroke="#48a866" stroke-width="0.8" opacity="0.85"/>
<rect x="240.35" y="478.5" width="1.5" height="1.0" fill="#48a866" opacity="0.86"/>
<line x1="243.71" y1="478.2" x2="243.71" y2="479.9" stroke="#48a866" stroke-width="0.8" opacity="0.85"/>
<rect x="242.96" y="478.7" width="1.5" height="1.0" fill="#48a866" opacity="0.86"/>
<line x1="246.31" y1="478.7" x2="246.31" y2="480.0" stroke="#48a866" stroke-width="0.8" opacity="0.85"/>
<rect x="245.56" y="478.9" width="1.5" height="1.0" fill="#48a866" opacity="0.86"/>
<line x1="248.92" y1="478.3" x2="248.92" y2="480.3" stroke="#48a866" stroke-width="0.8" opacity="0.85"/>
<rect x="248.17" y="479.1" width="1.5" height="1.0" fill="#48a866" opacity="0.86"/>
<line x1="251.52" y1="478.0" x2="251.52" y2="480.4" stroke="#48a866" stroke-width="0.8" opacity="0.85"/>
<rect x="250.77" y="478.5" width="1.5" height="1.0" fill="#48a866" opacity="0.86"/>
<line x1="254.12" y1="477.7" x2="254.12" y2="479.7" stroke="#e24e52" stroke-width="0.8" opacity="0.85"/>
<rect x="253.38" y="478.1" width="1.5" height="1.0" fill="#e24e52" opacity="0.86"/>
<line x1="256.73" y1="478.1" x2="256.73" y2="481.6" stroke="#e24e52" stroke-width="0.8" opacity="0.85"/>
<rect x="255.98" y="479.0" width="1.5" height="2.4" fill="#e24e52" opacity="0.86"/>
<line x1="259.33" y1="479.3" x2="259.33" y2="481.8" stroke="#e24e52" stroke-width="0.8" opacity="0.85"/>
<rect x="258.58" y="480.1" width="1.5" height="1.4" fill="#e24e52" opacity="0.86"/>
<line x1="261.94" y1="480.6" x2="261.94" y2="482.6" stroke="#e24e52" stroke-width="0.8" opacity="0.85"/>
<rect x="261.19" y="481.0" width="1.5" height="1.4" fill="#e24e52" opacity="0.86"/>
<line x1="264.54" y1="480.9" x2="264.54" y2="484.2" stroke="#e24e52" stroke-width="0.8" opacity="0.85"/>
<rect x="263.79" y="481.8" width="1.5" height="1.7" fill="#e24e52" opacity="0.86"/>
<line x1="267.15" y1="481.7" x2="267.15" y2="484.9" stroke="#e24e52" stroke-width="0.8" opacity="0.85"/>
<rect x="266.40" y="482.5" width="1.5" height="1.7" fill="#e24e52" opacity="0.86"/>
<line x1="269.75" y1="482.5" x2="269.75" y2="485.4" stroke="#e24e52" stroke-width="0.8" opacity="0.85"/>
<rect x="269.00" y="483.0" width="1.5" height="1.9" fill="#e24e52" opacity="0.86"/>
<line x1="272.35" y1="484.6" x2="272.35" y2="488.0" stroke="#e24e52" stroke-width="0.8" opacity="0.85"/>
<rect x="271.60" y="485.1" width="1.5" height="2.2" fill="#e24e52" opacity="0.86"/>
<line x1="274.96" y1="486.5" x2="274.96" y2="488.2" stroke="#e24e52" stroke-width="0.8" opacity="0.85"/>
<rect x="274.21" y="486.7" width="1.5" height="1.1" fill="#e24e52" opacity="0.86"/>
<line x1="277.56" y1="484.5" x2="277.56" y2="486.8" stroke="#48a866" stroke-width="0.8" opacity="0.85"/>
<rect x="276.81" y="484.6" width="1.5" height="2.0" fill="#48a866" opacity="0.86"/>
<line x1="280.17" y1="482.6" x2="280.17" y2="485.6" stroke="#48a866" stroke-width="0.8" opacity="0.85"/>
<rect x="279.42" y="482.7" width="1.5" height="2.3" fill="#48a866" opacity="0.86"/>
<line x1="282.77" y1="481.0" x2="282.77" y2="484.3" stroke="#48a866" stroke-width="0.8" opacity="0.85"/>
<rect x="282.02" y="481.8" width="1.5" height="1.7" fill="#48a866" opacity="0.86"/>
<line x1="285.38" y1="481.9" x2="285.38" y2="484.5" stroke="#e24e52" stroke-width="0.8" opacity="0.85"/>
<rect x="284.62" y="482.6" width="1.5" height="1.1" fill="#e24e52" opacity="0.86"/>
<line x1="287.98" y1="482.6" x2="287.98" y2="484.8" stroke="#48a866" stroke-width="0.8" opacity="0.85"/>
<rect x="287.23" y="483.5" width="1.5" height="1.0" fill="#48a866" opacity="0.86"/>
<line x1="290.58" y1="482.0" x2="290.58" y2="484.3" stroke="#e24e52" stroke-width="0.8" opacity="0.85"/>
<rect x="289.83" y="482.6" width="1.5" height="1.0" fill="#e24e52" opacity="0.86"/>
<line x1="293.19" y1="481.8" x2="293.19" y2="484.8" stroke="#48a866" stroke-width="0.8" opacity="0.85"/>
<rect x="292.44" y="482.8" width="1.5" height="1.4" fill="#48a866" opacity="0.86"/>
<line x1="295.79" y1="483.0" x2="295.79" y2="485.1" stroke="#e24e52" stroke-width="0.8" opacity="0.85"/>
<rect x="295.04" y="483.2" width="1.5" height="1.0" fill="#e24e52" opacity="0.86"/>
<line x1="298.40" y1="482.4" x2="298.40" y2="484.3" stroke="#e24e52" stroke-width="0.8" opacity="0.85"/>
<rect x="297.65" y="482.8" width="1.5" height="1.0" fill="#e24e52" opacity="0.86"/>
<line x1="301.00" y1="481.9" x2="301.00" y2="483.9" stroke="#e24e52" stroke-width="0.8" opacity="0.85"/>
<rect x="300.25" y="482.5" width="1.5" height="1.0" fill="#e24e52" opacity="0.86"/>
<line x1="303.60" y1="481.2" x2="303.60" y2="484.1" stroke="#e24e52" stroke-width="0.8" opacity="0.85"/>
<rect x="302.85" y="482.2" width="1.5" height="1.6" fill="#e24e52" opacity="0.86"/>
<line x1="306.21" y1="482.0" x2="306.21" y2="486.9" stroke="#e24e52" stroke-width="0.8" opacity="0.85"/>
<rect x="305.46" y="482.9" width="1.5" height="3.1" fill="#e24e52" opacity="0.86"/>
<line x1="308.81" y1="484.3" x2="308.81" y2="487.3" stroke="#e24e52" stroke-width="0.8" opacity="0.85"/>
<rect x="308.06" y="485.0" width="1.5" height="1.9" fill="#e24e52" opacity="0.86"/>
<line x1="311.42" y1="485.5" x2="311.42" y2="487.6" stroke="#e24e52" stroke-width="0.8" opacity="0.85"/>
<rect x="310.67" y="486.1" width="1.5" height="1.3" fill="#e24e52" opacity="0.86"/>
<line x1="314.02" y1="486.4" x2="314.02" y2="489.0" stroke="#48a866" stroke-width="0.8" opacity="0.85"/>
<rect x="313.27" y="486.7" width="1.5" height="1.7" fill="#48a866" opacity="0.86"/>
<line x1="316.62" y1="487.2" x2="316.62" y2="489.2" stroke="#e24e52" stroke-width="0.8" opacity="0.85"/>
<rect x="315.88" y="487.3" width="1.5" height="1.0" fill="#e24e52" opacity="0.86"/>
<line x1="319.23" y1="485.7" x2="319.23" y2="488.4" stroke="#e24e52" stroke-width="0.8" opacity="0.85"/>
<rect x="318.48" y="486.5" width="1.5" height="1.4" fill="#e24e52" opacity="0.86"/>
<line x1="321.83" y1="485.4" x2="321.83" y2="487.8" stroke="#48a866" stroke-width="0.8" opacity="0.85"/>
<rect x="321.08" y="486.1" width="1.5" height="1.1" fill="#48a866" opacity="0.86"/>
<line x1="324.44" y1="485.5" x2="324.44" y2="487.2" stroke="#e24e52" stroke-width="0.8" opacity="0.85"/>
<rect x="323.69" y="485.6" width="1.5" height="1.0" fill="#e24e52" opacity="0.86"/>
<line x1="327.04" y1="484.4" x2="327.04" y2="486.8" stroke="#48a866" stroke-width="0.8" opacity="0.85"/>
<rect x="326.29" y="485.1" width="1.5" height="1.0" fill="#48a866" opacity="0.86"/>
<line x1="329.65" y1="483.7" x2="329.65" y2="486.6" stroke="#48a866" stroke-width="0.8" opacity="0.85"/>
<rect x="328.90" y="484.4" width="1.5" height="1.3" fill="#48a866" opacity="0.86"/>
<line x1="332.25" y1="483.9" x2="332.25" y2="486.7" stroke="#48a866" stroke-width="0.8" opacity="0.85"/>
<rect x="331.50" y="484.7" width="1.5" height="1.2" fill="#48a866" opacity="0.86"/>
<line x1="334.85" y1="485.0" x2="334.85" y2="487.3" stroke="#e24e52" stroke-width="0.8" opacity="0.85"/>
<rect x="334.10" y="485.2" width="1.5" height="1.5" fill="#e24e52" opacity="0.86"/>
<line x1="337.46" y1="485.7" x2="337.46" y2="488.3" stroke="#48a866" stroke-width="0.8" opacity="0.85"/>
<rect x="336.71" y="486.1" width="1.5" height="1.4" fill="#48a866" opacity="0.86"/>
<line x1="340.06" y1="485.8" x2="340.06" y2="488.2" stroke="#e24e52" stroke-width="0.8" opacity="0.85"/>
<rect x="339.31" y="486.5" width="1.5" height="1.0" fill="#e24e52" opacity="0.86"/>
<line x1="342.67" y1="485.4" x2="342.67" y2="488.1" stroke="#48a866" stroke-width="0.8" opacity="0.85"/>
<rect x="341.92" y="485.6" width="1.5" height="1.9" fill="#48a866" opacity="0.86"/>
<line x1="345.27" y1="483.5" x2="345.27" y2="486.3" stroke="#48a866" stroke-width="0.8" opacity="0.85"/>
<rect x="344.52" y="484.5" width="1.5" height="1.1" fill="#48a866" opacity="0.86"/>
<line x1="347.88" y1="483.6" x2="347.88" y2="486.5" stroke="#48a866" stroke-width="0.8" opacity="0.85"/>
<rect x="347.12" y="484.5" width="1.5" height="1.0" fill="#48a866" opacity="0.86"/>
<line x1="350.48" y1="483.7" x2="350.48" y2="486.0" stroke="#e24e52" stroke-width="0.8" opacity="0.85"/>
<rect x="349.73" y="484.6" width="1.5" height="1.0" fill="#e24e52" opacity="0.86"/>
<line x1="353.08" y1="484.1" x2="353.08" y2="486.6" stroke="#e24e52" stroke-width="0.8" opacity="0.85"/>
<rect x="352.33" y="484.8" width="1.5" height="1.2" fill="#e24e52" opacity="0.86"/>
<line x1="355.69" y1="484.9" x2="355.69" y2="486.5" stroke="#48a866" stroke-width="0.8" opacity="0.85"/>
<rect x="354.94" y="485.3" width="1.5" height="1.0" fill="#48a866" opacity="0.86"/>
<line x1="358.29" y1="485.4" x2="358.29" y2="487.8" stroke="#e24e52" stroke-width="0.8" opacity="0.85"/>
<rect x="357.54" y="485.6" width="1.5" height="2.1" fill="#e24e52" opacity="0.86"/>
<line x1="360.90" y1="486.1" x2="360.90" y2="488.1" stroke="#48a866" stroke-width="0.8" opacity="0.85"/>
<rect x="360.15" y="487.0" width="1.5" height="1.0" fill="#48a866" opacity="0.86"/>
<line x1="363.50" y1="486.0" x2="363.50" y2="487.6" stroke="#e24e52" stroke-width="0.8" opacity="0.85"/>
<rect x="362.75" y="486.3" width="1.5" height="1.2" fill="#e24e52" opacity="0.86"/>
<line x1="366.10" y1="485.4" x2="366.10" y2="487.6" stroke="#e24e52" stroke-width="0.8" opacity="0.85"/>
<rect x="365.35" y="486.1" width="1.5" height="1.0" fill="#e24e52" opacity="0.86"/>
<line x1="368.71" y1="485.9" x2="368.71" y2="487.5" stroke="#48a866" stroke-width="0.8" opacity="0.85"/>
<rect x="367.96" y="486.4" width="1.5" height="1.0" fill="#48a866" opacity="0.86"/>
<line x1="371.31" y1="485.9" x2="371.31" y2="488.3" stroke="#48a866" stroke-width="0.8" opacity="0.85"/>
<rect x="370.56" y="486.7" width="1.5" height="1.0" fill="#48a866" opacity="0.86"/>
<line x1="373.92" y1="486.5" x2="373.92" y2="488.8" stroke="#48a866" stroke-width="0.8" opacity="0.85"/>
<rect x="373.17" y="487.0" width="1.5" height="1.0" fill="#48a866" opacity="0.86"/>
<line x1="376.52" y1="485.1" x2="376.52" y2="488.1" stroke="#48a866" stroke-width="0.8" opacity="0.85"/>
<rect x="375.77" y="485.9" width="1.5" height="1.4" fill="#48a866" opacity="0.86"/>
<line x1="379.12" y1="484.5" x2="379.12" y2="487.4" stroke="#48a866" stroke-width="0.8" opacity="0.85"/>
<rect x="378.38" y="484.8" width="1.5" height="1.8" fill="#48a866" opacity="0.86"/>
<line x1="381.73" y1="483.6" x2="381.73" y2="486.2" stroke="#e24e52" stroke-width="0.8" opacity="0.85"/>
<rect x="380.98" y="484.6" width="1.5" height="1.0" fill="#e24e52" opacity="0.86"/>
<line x1="384.33" y1="483.5" x2="384.33" y2="485.8" stroke="#e24e52" stroke-width="0.8" opacity="0.85"/>
<rect x="383.58" y="484.5" width="1.5" height="1.0" fill="#e24e52" opacity="0.86"/>
<line x1="386.94" y1="483.9" x2="386.94" y2="486.3" stroke="#48a866" stroke-width="0.8" opacity="0.85"/>
<rect x="386.19" y="484.5" width="1.5" height="1.7" fill="#48a866" opacity="0.86"/>
<line x1="389.54" y1="484.9" x2="389.54" y2="488.2" stroke="#e24e52" stroke-width="0.8" opacity="0.85"/>
<rect x="388.79" y="485.0" width="1.5" height="2.2" fill="#e24e52" opacity="0.86"/>
<line x1="392.15" y1="485.6" x2="392.15" y2="488.8" stroke="#48a866" stroke-width="0.8" opacity="0.85"/>
<rect x="391.40" y="485.9" width="1.5" height="2.0" fill="#48a866" opacity="0.86"/>
<line x1="394.75" y1="485.9" x2="394.75" y2="488.5" stroke="#e24e52" stroke-width="0.8" opacity="0.85"/>
<rect x="394.00" y="486.6" width="1.5" height="1.2" fill="#e24e52" opacity="0.86"/>
<line x1="397.35" y1="485.6" x2="397.35" y2="488.2" stroke="#48a866" stroke-width="0.8" opacity="0.85"/>
<rect x="396.60" y="486.2" width="1.5" height="1.6" fill="#48a866" opacity="0.86"/>
<line x1="399.96" y1="485.6" x2="399.96" y2="488.1" stroke="#48a866" stroke-width="0.8" opacity="0.85"/>
<rect x="399.21" y="486.2" width="1.5" height="1.0" fill="#48a866" opacity="0.86"/>
<line x1="402.56" y1="485.4" x2="402.56" y2="487.2" stroke="#48a866" stroke-width="0.8" opacity="0.85"/>
<rect x="401.81" y="485.7" width="1.5" height="1.3" fill="#48a866" opacity="0.86"/>
<line x1="405.17" y1="484.9" x2="405.17" y2="487.2" stroke="#48a866" stroke-width="0.8" opacity="0.85"/>
<rect x="404.42" y="485.9" width="1.5" height="1.0" fill="#48a866" opacity="0.86"/>
<line x1="407.77" y1="485.6" x2="407.77" y2="488.0" stroke="#e24e52" stroke-width="0.8" opacity="0.85"/>
<rect x="407.02" y="486.0" width="1.5" height="1.0" fill="#e24e52" opacity="0.86"/>
<line x1="410.38" y1="485.1" x2="410.38" y2="487.4" stroke="#e24e52" stroke-width="0.8" opacity="0.85"/>
<rect x="409.62" y="486.0" width="1.5" height="1.0" fill="#e24e52" opacity="0.86"/>
<line x1="412.98" y1="485.4" x2="412.98" y2="487.6" stroke="#e24e52" stroke-width="0.8" opacity="0.85"/>
<rect x="412.23" y="486.1" width="1.5" height="1.0" fill="#e24e52" opacity="0.86"/>
<line x1="415.58" y1="486.0" x2="415.58" y2="487.4" stroke="#e24e52" stroke-width="0.8" opacity="0.85"/>
<rect x="414.83" y="486.1" width="1.5" height="1.0" fill="#e24e52" opacity="0.86"/>
<line x1="418.19" y1="484.9" x2="418.19" y2="487.7" stroke="#48a866" stroke-width="0.8" opacity="0.85"/>
<rect x="417.44" y="485.4" width="1.5" height="2.0" fill="#48a866" opacity="0.86"/>
<line x1="420.79" y1="483.2" x2="420.79" y2="486.3" stroke="#48a866" stroke-width="0.8" opacity="0.85"/>
<rect x="420.04" y="483.8" width="1.5" height="2.3" fill="#48a866" opacity="0.86"/>
<line x1="423.40" y1="483.9" x2="423.40" y2="485.5" stroke="#48a866" stroke-width="0.8" opacity="0.85"/>
<rect x="422.65" y="484.1" width="1.5" height="1.0" fill="#48a866" opacity="0.86"/>
<line x1="426.00" y1="483.6" x2="426.00" y2="485.2" stroke="#e24e52" stroke-width="0.8" opacity="0.85"/>
<rect x="425.25" y="484.1" width="1.5" height="1.0" fill="#e24e52" opacity="0.86"/>
<line x1="428.60" y1="483.5" x2="428.60" y2="485.8" stroke="#e24e52" stroke-width="0.8" opacity="0.85"/>
<rect x="427.85" y="483.8" width="1.5" height="1.8" fill="#e24e52" opacity="0.86"/>
<line x1="431.21" y1="482.4" x2="431.21" y2="484.8" stroke="#48a866" stroke-width="0.8" opacity="0.85"/>
<rect x="430.46" y="482.9" width="1.5" height="1.6" fill="#48a866" opacity="0.86"/>
<line x1="433.81" y1="482.0" x2="433.81" y2="484.0" stroke="#e24e52" stroke-width="0.8" opacity="0.85"/>
<rect x="433.06" y="482.5" width="1.5" height="1.3" fill="#e24e52" opacity="0.86"/>
<line x1="436.42" y1="481.8" x2="436.42" y2="484.3" stroke="#48a866" stroke-width="0.8" opacity="0.85"/>
<rect x="435.67" y="482.3" width="1.5" height="1.0" fill="#48a866" opacity="0.86"/>
<line x1="439.02" y1="481.4" x2="439.02" y2="484.0" stroke="#48a866" stroke-width="0.8" opacity="0.85"/>
<rect x="438.27" y="482.2" width="1.5" height="1.2" fill="#48a866" opacity="0.86"/>
<line x1="441.62" y1="480.7" x2="441.62" y2="483.1" stroke="#48a866" stroke-width="0.8" opacity="0.85"/>
<rect x="440.88" y="480.8" width="1.5" height="1.7" fill="#48a866" opacity="0.86"/>
<line x1="444.23" y1="478.7" x2="444.23" y2="482.8" stroke="#48a866" stroke-width="0.8" opacity="0.85"/>
<rect x="443.48" y="478.9" width="1.5" height="3.5" fill="#48a866" opacity="0.86"/>
<line x1="446.83" y1="475.0" x2="446.83" y2="482.5" stroke="#48a866" stroke-width="0.8" opacity="0.85"/>
<rect x="446.08" y="476.0" width="1.5" height="6.0" fill="#48a866" opacity="0.86"/>
<line x1="449.44" y1="476.0" x2="449.44" y2="478.4" stroke="#e24e52" stroke-width="0.8" opacity="0.85"/>
<rect x="448.69" y="476.8" width="1.5" height="1.3" fill="#e24e52" opacity="0.86"/>
<line x1="452.04" y1="475.4" x2="452.04" y2="477.9" stroke="#48a866" stroke-width="0.8" opacity="0.85"/>
<rect x="451.29" y="476.0" width="1.5" height="1.4" fill="#48a866" opacity="0.86"/>
<line x1="454.65" y1="474.0" x2="454.65" y2="476.7" stroke="#48a866" stroke-width="0.8" opacity="0.85"/>
<rect x="453.90" y="475.0" width="1.5" height="1.3" fill="#48a866" opacity="0.86"/>
<line x1="457.25" y1="474.3" x2="457.25" y2="476.6" stroke="#e24e52" stroke-width="0.8" opacity="0.85"/>
<rect x="456.50" y="474.4" width="1.5" height="1.2" fill="#e24e52" opacity="0.86"/>
<line x1="459.85" y1="473.9" x2="459.85" y2="476.0" stroke="#48a866" stroke-width="0.8" opacity="0.85"/>
<rect x="459.10" y="474.7" width="1.5" height="1.1" fill="#48a866" opacity="0.86"/>
<line x1="462.46" y1="475.3" x2="462.46" y2="477.9" stroke="#e24e52" stroke-width="0.8" opacity="0.85"/>
<rect x="461.71" y="475.5" width="1.5" height="1.3" fill="#e24e52" opacity="0.86"/>
<line x1="465.06" y1="475.1" x2="465.06" y2="479.0" stroke="#e24e52" stroke-width="0.8" opacity="0.85"/>
<rect x="464.31" y="475.9" width="1.5" height="2.2" fill="#e24e52" opacity="0.86"/>
<line x1="467.67" y1="476.0" x2="467.67" y2="478.1" stroke="#48a866" stroke-width="0.8" opacity="0.85"/>
<rect x="466.92" y="476.3" width="1.5" height="1.5" fill="#48a866" opacity="0.86"/>
<line x1="470.27" y1="475.8" x2="470.27" y2="479.1" stroke="#e24e52" stroke-width="0.8" opacity="0.85"/>
<rect x="469.52" y="476.1" width="1.5" height="1.8" fill="#e24e52" opacity="0.86"/>
<line x1="472.88" y1="474.8" x2="472.88" y2="478.4" stroke="#e24e52" stroke-width="0.8" opacity="0.85"/>
<rect x="472.12" y="475.9" width="1.5" height="2.1" fill="#e24e52" opacity="0.86"/>
<line x1="475.48" y1="472.9" x2="475.48" y2="477.9" stroke="#48a866" stroke-width="0.8" opacity="0.85"/>
<rect x="474.73" y="473.8" width="1.5" height="3.8" fill="#48a866" opacity="0.86"/>
<line x1="478.08" y1="467.5" x2="478.08" y2="477.3" stroke="#48a866" stroke-width="0.8" opacity="0.85"/>
<rect x="477.33" y="468.0" width="1.5" height="8.0" fill="#48a866" opacity="0.86"/>
<line x1="480.69" y1="467.8" x2="480.69" y2="471.3" stroke="#48a866" stroke-width="0.8" opacity="0.85"/>
<rect x="479.94" y="468.6" width="1.5" height="1.7" fill="#48a866" opacity="0.86"/>
<line x1="483.29" y1="467.9" x2="483.29" y2="471.2" stroke="#48a866" stroke-width="0.8" opacity="0.85"/>
<rect x="482.54" y="468.8" width="1.5" height="1.2" fill="#48a866" opacity="0.86"/>
<line x1="485.90" y1="466.9" x2="485.90" y2="469.4" stroke="#48a866" stroke-width="0.8" opacity="0.85"/>
<rect x="485.15" y="467.2" width="1.5" height="1.7" fill="#48a866" opacity="0.86"/>
<line x1="488.50" y1="465.9" x2="488.50" y2="468.2" stroke="#e24e52" stroke-width="0.8" opacity="0.85"/>
<rect x="487.75" y="467.0" width="1.5" height="1.0" fill="#e24e52" opacity="0.86"/>
<line x1="491.10" y1="466.6" x2="491.10" y2="470.4" stroke="#e24e52" stroke-width="0.8" opacity="0.85"/>
<rect x="490.35" y="467.6" width="1.5" height="1.9" fill="#e24e52" opacity="0.86"/>
<line x1="493.71" y1="467.8" x2="493.71" y2="471.6" stroke="#e24e52" stroke-width="0.8" opacity="0.85"/>
<rect x="492.96" y="468.8" width="1.5" height="2.0" fill="#e24e52" opacity="0.86"/>
<line x1="496.31" y1="468.9" x2="496.31" y2="471.5" stroke="#e24e52" stroke-width="0.8" opacity="0.85"/>
<rect x="495.56" y="470.0" width="1.5" height="1.0" fill="#e24e52" opacity="0.86"/>
<line x1="498.92" y1="468.4" x2="498.92" y2="471.0" stroke="#e24e52" stroke-width="0.8" opacity="0.85"/>
<rect x="498.17" y="469.0" width="1.5" height="1.7" fill="#e24e52" opacity="0.86"/>
<line x1="501.52" y1="468.1" x2="501.52" y2="470.8" stroke="#48a866" stroke-width="0.8" opacity="0.85"/>
<rect x="500.77" y="469.0" width="1.5" height="1.0" fill="#48a866" opacity="0.86"/>
<line x1="504.12" y1="467.7" x2="504.12" y2="470.9" stroke="#e24e52" stroke-width="0.8" opacity="0.85"/>
<rect x="503.38" y="468.5" width="1.5" height="1.9" fill="#e24e52" opacity="0.86"/>
<line x1="506.73" y1="468.2" x2="506.73" y2="470.8" stroke="#48a866" stroke-width="0.8" opacity="0.85"/>
<rect x="505.98" y="468.4" width="1.5" height="1.6" fill="#48a866" opacity="0.86"/>
<line x1="509.33" y1="466.9" x2="509.33" y2="470.6" stroke="#48a866" stroke-width="0.8" opacity="0.85"/>
<rect x="508.58" y="467.8" width="1.5" height="1.9" fill="#48a866" opacity="0.86"/>
<line x1="511.94" y1="466.2" x2="511.94" y2="468.5" stroke="#48a866" stroke-width="0.8" opacity="0.85"/>
<rect x="511.19" y="467.1" width="1.5" height="1.1" fill="#48a866" opacity="0.86"/>
<line x1="514.54" y1="466.6" x2="514.54" y2="469.4" stroke="#e24e52" stroke-width="0.8" opacity="0.85"/>
<rect x="513.79" y="466.8" width="1.5" height="1.5" fill="#e24e52" opacity="0.86"/>
<line x1="517.15" y1="467.4" x2="517.15" y2="469.6" stroke="#e24e52" stroke-width="0.8" opacity="0.85"/>
<rect x="516.40" y="467.7" width="1.5" height="1.7" fill="#e24e52" opacity="0.86"/>
<line x1="519.75" y1="468.2" x2="519.75" y2="471.6" stroke="#e24e52" stroke-width="0.8" opacity="0.85"/>
<rect x="519.00" y="468.9" width="1.5" height="2.0" fill="#e24e52" opacity="0.86"/>
<line x1="522.35" y1="468.8" x2="522.35" y2="474.2" stroke="#e24e52" stroke-width="0.8" opacity="0.85"/>
<rect x="521.60" y="470.0" width="1.5" height="3.5" fill="#e24e52" opacity="0.86"/>
<line x1="524.96" y1="471.4" x2="524.96" y2="475.9" stroke="#e24e52" stroke-width="0.8" opacity="0.85"/>
<rect x="524.21" y="472.7" width="1.5" height="2.6" fill="#e24e52" opacity="0.86"/>
<line x1="527.56" y1="472.5" x2="527.56" y2="475.0" stroke="#48a866" stroke-width="0.8" opacity="0.85"/>
<rect x="526.81" y="473.3" width="1.5" height="1.0" fill="#48a866" opacity="0.86"/>
<line x1="530.17" y1="472.1" x2="530.17" y2="474.6" stroke="#48a866" stroke-width="0.8" opacity="0.85"/>
<rect x="529.42" y="473.3" width="1.5" height="1.0" fill="#48a866" opacity="0.86"/>
<line x1="532.77" y1="472.2" x2="532.77" y2="475.1" stroke="#48a866" stroke-width="0.8" opacity="0.85"/>
<rect x="532.02" y="473.4" width="1.5" height="1.2" fill="#48a866" opacity="0.86"/>
<line x1="535.38" y1="473.3" x2="535.38" y2="476.1" stroke="#e24e52" stroke-width="0.8" opacity="0.85"/>
<rect x="534.62" y="474.1" width="1.5" height="1.0" fill="#e24e52" opacity="0.86"/>
<line x1="537.98" y1="472.7" x2="537.98" y2="475.2" stroke="#48a866" stroke-width="0.8" opacity="0.85"/>
<rect x="537.23" y="473.7" width="1.5" height="1.4" fill="#48a866" opacity="0.86"/>
<line x1="540.58" y1="472.1" x2="540.58" y2="474.4" stroke="#48a866" stroke-width="0.8" opacity="0.85"/>
<rect x="539.83" y="472.7" width="1.5" height="1.3" fill="#48a866" opacity="0.86"/>
<line x1="543.19" y1="471.5" x2="543.19" y2="473.9" stroke="#e24e52" stroke-width="0.8" opacity="0.85"/>
<rect x="542.44" y="472.0" width="1.5" height="1.0" fill="#e24e52" opacity="0.86"/>
<line x1="545.79" y1="471.2" x2="545.79" y2="473.8" stroke="#48a866" stroke-width="0.8" opacity="0.85"/>
<rect x="545.04" y="472.5" width="1.5" height="1.0" fill="#48a866" opacity="0.86"/>
<line x1="548.40" y1="469.3" x2="548.40" y2="473.9" stroke="#48a866" stroke-width="0.8" opacity="0.85"/>
<rect x="547.65" y="470.6" width="1.5" height="2.3" fill="#48a866" opacity="0.86"/>
<line x1="551.00" y1="467.8" x2="551.00" y2="472.3" stroke="#48a866" stroke-width="0.8" opacity="0.85"/>
<rect x="550.25" y="468.8" width="1.5" height="2.5" fill="#48a866" opacity="0.86"/>
<line x1="553.60" y1="467.0" x2="553.60" y2="470.9" stroke="#48a866" stroke-width="0.8" opacity="0.85"/>
<rect x="552.85" y="468.1" width="1.5" height="2.0" fill="#48a866" opacity="0.86"/>
<line x1="556.21" y1="467.9" x2="556.21" y2="470.4" stroke="#e24e52" stroke-width="0.8" opacity="0.85"/>
<rect x="555.46" y="469.0" width="1.5" height="1.0" fill="#e24e52" opacity="0.86"/>
<line x1="558.81" y1="468.9" x2="558.81" y2="470.6" stroke="#48a866" stroke-width="0.8" opacity="0.85"/>
<rect x="558.06" y="469.3" width="1.5" height="1.0" fill="#48a866" opacity="0.86"/>
<line x1="561.42" y1="467.2" x2="561.42" y2="471.7" stroke="#e24e52" stroke-width="0.8" opacity="0.85"/>
<rect x="560.67" y="468.1" width="1.5" height="2.4" fill="#e24e52" opacity="0.86"/>
<line x1="564.02" y1="467.2" x2="564.02" y2="470.3" stroke="#48a866" stroke-width="0.8" opacity="0.85"/>
<rect x="563.27" y="468.3" width="1.5" height="1.0" fill="#48a866" opacity="0.86"/>
<line x1="566.62" y1="467.9" x2="566.62" y2="470.1" stroke="#e24e52" stroke-width="0.8" opacity="0.85"/>
<rect x="565.88" y="468.2" width="1.5" height="1.5" fill="#e24e52" opacity="0.86"/>
<line x1="569.23" y1="467.7" x2="569.23" y2="470.1" stroke="#e24e52" stroke-width="0.8" opacity="0.85"/>
<rect x="568.48" y="468.7" width="1.5" height="1.0" fill="#e24e52" opacity="0.86"/>
<line x1="571.83" y1="468.2" x2="571.83" y2="470.5" stroke="#e24e52" stroke-width="0.8" opacity="0.85"/>
<rect x="571.08" y="468.9" width="1.5" height="1.2" fill="#e24e52" opacity="0.86"/>
<line x1="574.44" y1="468.3" x2="574.44" y2="471.1" stroke="#48a866" stroke-width="0.8" opacity="0.85"/>
<rect x="573.69" y="469.1" width="1.5" height="1.3" fill="#48a866" opacity="0.86"/>
<line x1="577.04" y1="468.3" x2="577.04" y2="470.9" stroke="#48a866" stroke-width="0.8" opacity="0.85"/>
<rect x="576.29" y="468.9" width="1.5" height="1.7" fill="#48a866" opacity="0.86"/>
<line x1="579.65" y1="466.1" x2="579.65" y2="469.1" stroke="#48a866" stroke-width="0.8" opacity="0.85"/>
<rect x="578.90" y="466.3" width="1.5" height="2.3" fill="#48a866" opacity="0.86"/>
<line x1="582.25" y1="465.6" x2="582.25" y2="469.5" stroke="#e24e52" stroke-width="0.8" opacity="0.85"/>
<rect x="581.50" y="466.3" width="1.5" height="2.4" fill="#e24e52" opacity="0.86"/>
<line x1="584.85" y1="466.2" x2="584.85" y2="470.9" stroke="#48a866" stroke-width="0.8" opacity="0.85"/>
<rect x="584.10" y="467.3" width="1.5" height="2.3" fill="#48a866" opacity="0.86"/>
<line x1="587.46" y1="465.0" x2="587.46" y2="468.0" stroke="#48a866" stroke-width="0.8" opacity="0.85"/>
<rect x="586.71" y="465.5" width="1.5" height="2.3" fill="#48a866" opacity="0.86"/>
<line x1="590.06" y1="462.7" x2="590.06" y2="467.2" stroke="#48a866" stroke-width="0.8" opacity="0.85"/>
<rect x="589.31" y="463.9" width="1.5" height="2.0" fill="#48a866" opacity="0.86"/>
<line x1="592.67" y1="458.5" x2="592.67" y2="470.0" stroke="#e24e52" stroke-width="0.8" opacity="0.85"/>
<rect x="591.92" y="462.0" width="1.5" height="4.0" fill="#e24e52" opacity="0.86"/>
<line x1="595.27" y1="459.5" x2="595.27" y2="471.0" stroke="#e24e52" stroke-width="0.8" opacity="0.85"/>
<rect x="594.52" y="463.0" width="1.5" height="4.0" fill="#e24e52" opacity="0.86"/>
<line x1="597.88" y1="463.8" x2="597.88" y2="466.3" stroke="#48a866" stroke-width="0.8" opacity="0.85"/>
<rect x="597.12" y="465.1" width="1.5" height="1.0" fill="#48a866" opacity="0.86"/>
<line x1="600.48" y1="463.1" x2="600.48" y2="466.5" stroke="#e24e52" stroke-width="0.8" opacity="0.85"/>
<rect x="599.73" y="464.1" width="1.5" height="1.5" fill="#e24e52" opacity="0.86"/>
<line x1="603.08" y1="462.8" x2="603.08" y2="467.2" stroke="#e24e52" stroke-width="0.8" opacity="0.85"/>
<rect x="602.33" y="464.0" width="1.5" height="2.2" fill="#e24e52" opacity="0.86"/>
<line x1="605.69" y1="465.1" x2="605.69" y2="469.0" stroke="#e24e52" stroke-width="0.8" opacity="0.85"/>
<rect x="604.94" y="465.8" width="1.5" height="2.6" fill="#e24e52" opacity="0.86"/>
<line x1="608.29" y1="467.2" x2="608.29" y2="470.6" stroke="#48a866" stroke-width="0.8" opacity="0.85"/>
<rect x="607.54" y="468.4" width="1.5" height="1.0" fill="#48a866" opacity="0.86"/>
<line x1="610.90" y1="465.7" x2="610.90" y2="469.3" stroke="#48a866" stroke-width="0.8" opacity="0.85"/>
<rect x="610.15" y="466.9" width="1.5" height="2.0" fill="#48a866" opacity="0.86"/>
<line x1="613.50" y1="464.8" x2="613.50" y2="468.5" stroke="#e24e52" stroke-width="0.8" opacity="0.85"/>
<rect x="612.75" y="466.0" width="1.5" height="1.2" fill="#e24e52" opacity="0.86"/>
<line x1="616.10" y1="466.3" x2="616.10" y2="468.3" stroke="#e24e52" stroke-width="0.8" opacity="0.85"/>
<rect x="615.35" y="466.8" width="1.5" height="1.1" fill="#e24e52" opacity="0.86"/>
<line x1="618.71" y1="466.6" x2="618.71" y2="469.5" stroke="#48a866" stroke-width="0.8" opacity="0.85"/>
<rect x="617.96" y="467.5" width="1.5" height="1.2" fill="#48a866" opacity="0.86"/>
<line x1="621.31" y1="467.7" x2="621.31" y2="470.0" stroke="#48a866" stroke-width="0.8" opacity="0.85"/>
<rect x="620.56" y="467.9" width="1.5" height="1.4" fill="#48a866" opacity="0.86"/>
<line x1="623.92" y1="467.7" x2="623.92" y2="471.0" stroke="#e24e52" stroke-width="0.8" opacity="0.85"/>
<rect x="623.17" y="468.2" width="1.5" height="1.6" fill="#e24e52" opacity="0.86"/>
<line x1="626.52" y1="468.1" x2="626.52" y2="472.6" stroke="#48a866" stroke-width="0.8" opacity="0.85"/>
<rect x="625.77" y="469.3" width="1.5" height="2.5" fill="#48a866" opacity="0.86"/>
<line x1="629.12" y1="468.5" x2="629.12" y2="472.1" stroke="#e24e52" stroke-width="0.8" opacity="0.85"/>
<rect x="628.38" y="469.8" width="1.5" height="1.0" fill="#e24e52" opacity="0.86"/>
<line x1="631.73" y1="468.8" x2="631.73" y2="472.2" stroke="#e24e52" stroke-width="0.8" opacity="0.85"/>
<rect x="630.98" y="470.0" width="1.5" height="1.0" fill="#e24e52" opacity="0.86"/>
<line x1="634.33" y1="468.9" x2="634.33" y2="470.9" stroke="#48a866" stroke-width="0.8" opacity="0.85"/>
<rect x="633.58" y="469.2" width="1.5" height="1.6" fill="#48a866" opacity="0.86"/>
<line x1="636.94" y1="469.1" x2="636.94" y2="471.3" stroke="#e24e52" stroke-width="0.8" opacity="0.85"/>
<rect x="636.19" y="469.5" width="1.5" height="1.0" fill="#e24e52" opacity="0.86"/>
<line x1="639.54" y1="467.8" x2="639.54" y2="472.2" stroke="#48a866" stroke-width="0.8" opacity="0.85"/>
<rect x="638.79" y="468.1" width="1.5" height="3.3" fill="#48a866" opacity="0.86"/>
<line x1="642.15" y1="463.6" x2="642.15" y2="471.0" stroke="#48a866" stroke-width="0.8" opacity="0.85"/>
<rect x="641.40" y="464.4" width="1.5" height="6.2" fill="#48a866" opacity="0.86"/>
<line x1="644.75" y1="466.3" x2="644.75" y2="468.5" stroke="#e24e52" stroke-width="0.8" opacity="0.85"/>
<rect x="644.00" y="466.5" width="1.5" height="1.0" fill="#e24e52" opacity="0.86"/>
<line x1="647.35" y1="466.4" x2="647.35" y2="468.8" stroke="#48a866" stroke-width="0.8" opacity="0.85"/>
<rect x="646.60" y="466.9" width="1.5" height="1.0" fill="#48a866" opacity="0.86"/>
<line x1="649.96" y1="466.6" x2="649.96" y2="470.0" stroke="#e24e52" stroke-width="0.8" opacity="0.85"/>
<rect x="649.21" y="466.8" width="1.5" height="2.3" fill="#e24e52" opacity="0.86"/>
<line x1="652.56" y1="466.2" x2="652.56" y2="474.3" stroke="#e24e52" stroke-width="0.8" opacity="0.85"/>
<rect x="651.81" y="467.3" width="1.5" height="6.5" fill="#e24e52" opacity="0.86"/>
<line x1="655.17" y1="470.3" x2="655.17" y2="472.6" stroke="#e24e52" stroke-width="0.8" opacity="0.85"/>
<rect x="654.42" y="470.5" width="1.5" height="1.5" fill="#e24e52" opacity="0.86"/>
<line x1="657.77" y1="469.3" x2="657.77" y2="472.4" stroke="#48a866" stroke-width="0.8" opacity="0.85"/>
<rect x="657.02" y="470.1" width="1.5" height="1.0" fill="#48a866" opacity="0.86"/>
<line x1="660.38" y1="469.8" x2="660.38" y2="472.3" stroke="#48a866" stroke-width="0.8" opacity="0.85"/>
<rect x="659.62" y="470.6" width="1.5" height="1.0" fill="#48a866" opacity="0.86"/>
<line x1="662.98" y1="470.3" x2="662.98" y2="473.0" stroke="#48a866" stroke-width="0.8" opacity="0.85"/>
<rect x="662.23" y="470.8" width="1.5" height="1.5" fill="#48a866" opacity="0.86"/>
<line x1="665.58" y1="471.3" x2="665.58" y2="473.2" stroke="#e24e52" stroke-width="0.8" opacity="0.85"/>
<rect x="664.83" y="471.4" width="1.5" height="1.0" fill="#e24e52" opacity="0.86"/>
<line x1="668.19" y1="469.1" x2="668.19" y2="473.0" stroke="#48a866" stroke-width="0.8" opacity="0.85"/>
<rect x="667.44" y="469.6" width="1.5" height="3.2" fill="#48a866" opacity="0.86"/>
<line x1="670.79" y1="463.2" x2="670.79" y2="472.2" stroke="#48a866" stroke-width="0.8" opacity="0.85"/>
<rect x="670.04" y="464.4" width="1.5" height="6.9" fill="#48a866" opacity="0.86"/>
<line x1="673.40" y1="465.9" x2="673.40" y2="468.5" stroke="#e24e52" stroke-width="0.8" opacity="0.85"/>
<rect x="672.65" y="466.3" width="1.5" height="1.8" fill="#e24e52" opacity="0.86"/>
<line x1="676.00" y1="466.8" x2="676.00" y2="469.6" stroke="#e24e52" stroke-width="0.8" opacity="0.85"/>
<rect x="675.25" y="468.0" width="1.5" height="1.0" fill="#e24e52" opacity="0.86"/>
<line x1="678.60" y1="463.0" x2="678.60" y2="468.5" stroke="#48a866" stroke-width="0.8" opacity="0.85"/>
<rect x="677.85" y="464.3" width="1.5" height="4.1" fill="#48a866" opacity="0.86"/>
<line x1="681.21" y1="457.9" x2="681.21" y2="468.1" stroke="#48a866" stroke-width="0.8" opacity="0.85"/>
<rect x="680.46" y="458.8" width="1.5" height="8.1" fill="#48a866" opacity="0.86"/>
<line x1="683.81" y1="458.6" x2="683.81" y2="463.4" stroke="#e24e52" stroke-width="0.8" opacity="0.85"/>
<rect x="683.06" y="458.8" width="1.5" height="3.5" fill="#e24e52" opacity="0.86"/>
<line x1="686.42" y1="454.7" x2="686.42" y2="465.0" stroke="#e24e52" stroke-width="0.8" opacity="0.85"/>
<rect x="685.67" y="455.0" width="1.5" height="8.8" fill="#e24e52" opacity="0.86"/>
<line x1="689.02" y1="458.3" x2="689.02" y2="464.9" stroke="#48a866" stroke-width="0.8" opacity="0.85"/>
<rect x="688.27" y="458.8" width="1.5" height="5.0" fill="#48a866" opacity="0.86"/>
<line x1="691.62" y1="439.4" x2="691.62" y2="460.5" stroke="#48a866" stroke-width="0.8" opacity="0.85"/>
<rect x="690.88" y="440.6" width="1.5" height="19.4" fill="#48a866" opacity="0.86"/>
<line x1="694.23" y1="434.4" x2="694.23" y2="445.5" stroke="#48a866" stroke-width="0.8" opacity="0.85"/>
<rect x="693.48" y="435.6" width="1.5" height="8.8" fill="#48a866" opacity="0.86"/>
<line x1="696.83" y1="440.0" x2="696.83" y2="447.4" stroke="#e24e52" stroke-width="0.8" opacity="0.85"/>
<rect x="696.08" y="440.6" width="1.5" height="5.7" fill="#e24e52" opacity="0.86"/>
<line x1="699.44" y1="444.5" x2="699.44" y2="453.4" stroke="#e24e52" stroke-width="0.8" opacity="0.85"/>
<rect x="698.69" y="445.0" width="1.5" height="7.5" fill="#e24e52" opacity="0.86"/>
<line x1="702.04" y1="445.4" x2="702.04" y2="453.1" stroke="#48a866" stroke-width="0.8" opacity="0.85"/>
<rect x="701.29" y="446.9" width="1.5" height="5.0" fill="#48a866" opacity="0.86"/>
<line x1="704.65" y1="444.5" x2="704.65" y2="450.6" stroke="#48a866" stroke-width="0.8" opacity="0.85"/>
<rect x="703.90" y="445.0" width="1.5" height="4.0" fill="#48a866" opacity="0.86"/>
<line x1="707.25" y1="438.6" x2="707.25" y2="447.1" stroke="#48a866" stroke-width="0.8" opacity="0.85"/>
<rect x="706.50" y="440.0" width="1.5" height="6.3" fill="#48a866" opacity="0.86"/>
<line x1="709.85" y1="440.7" x2="709.85" y2="448.1" stroke="#e24e52" stroke-width="0.8" opacity="0.85"/>
<rect x="709.10" y="441.3" width="1.5" height="5.6" fill="#e24e52" opacity="0.86"/>
<line x1="712.46" y1="445.2" x2="712.46" y2="450.9" stroke="#e24e52" stroke-width="0.8" opacity="0.85"/>
<rect x="711.71" y="445.5" width="1.5" height="4.5" fill="#e24e52" opacity="0.86"/>
<line x1="715.06" y1="445.9" x2="715.06" y2="451.7" stroke="#e24e52" stroke-width="0.8" opacity="0.85"/>
<rect x="714.31" y="446.4" width="1.5" height="3.5" fill="#e24e52" opacity="0.86"/>
<line x1="717.67" y1="445.2" x2="717.67" y2="454.0" stroke="#e24e52" stroke-width="0.8" opacity="0.85"/>
<rect x="716.92" y="445.6" width="1.5" height="6.9" fill="#e24e52" opacity="0.86"/>
<line x1="720.27" y1="446.8" x2="720.27" y2="453.2" stroke="#48a866" stroke-width="0.8" opacity="0.85"/>
<rect x="719.52" y="447.5" width="1.5" height="5.3" fill="#48a866" opacity="0.86"/>
<line x1="722.88" y1="447.1" x2="722.88" y2="451.0" stroke="#e24e52" stroke-width="0.8" opacity="0.85"/>
<rect x="722.12" y="448.5" width="1.5" height="2.0" fill="#e24e52" opacity="0.86"/>
<line x1="725.48" y1="446.3" x2="725.48" y2="450.3" stroke="#48a866" stroke-width="0.8" opacity="0.85"/>
<rect x="724.73" y="447.9" width="1.5" height="1.4" fill="#48a866" opacity="0.86"/>
<line x1="728.08" y1="446.4" x2="728.08" y2="452.6" stroke="#e24e52" stroke-width="0.8" opacity="0.85"/>
<rect x="727.33" y="447.0" width="1.5" height="4.3" fill="#e24e52" opacity="0.86"/>
<line x1="730.69" y1="449.1" x2="730.69" y2="456.6" stroke="#e24e52" stroke-width="0.8" opacity="0.85"/>
<rect x="729.94" y="449.8" width="1.5" height="5.2" fill="#e24e52" opacity="0.86"/>
<line x1="733.29" y1="451.4" x2="733.29" y2="458.0" stroke="#48a866" stroke-width="0.8" opacity="0.85"/>
<rect x="732.54" y="451.8" width="1.5" height="4.6" fill="#48a866" opacity="0.86"/>
<line x1="735.90" y1="447.7" x2="735.90" y2="453.3" stroke="#48a866" stroke-width="0.8" opacity="0.85"/>
<rect x="735.15" y="449.1" width="1.5" height="3.6" fill="#48a866" opacity="0.86"/>
<line x1="738.50" y1="447.5" x2="738.50" y2="452.9" stroke="#48a866" stroke-width="0.8" opacity="0.85"/>
<rect x="737.75" y="448.0" width="1.5" height="4.0" fill="#48a866" opacity="0.86"/>
<line x1="741.10" y1="442.0" x2="741.10" y2="450.1" stroke="#48a866" stroke-width="0.8" opacity="0.85"/>
<rect x="740.35" y="443.0" width="1.5" height="6.4" fill="#48a866" opacity="0.86"/>
<line x1="743.71" y1="424.6" x2="743.71" y2="443.4" stroke="#48a866" stroke-width="0.8" opacity="0.85"/>
<rect x="742.96" y="425.6" width="1.5" height="17.4" fill="#48a866" opacity="0.86"/>
<line x1="746.31" y1="429.6" x2="746.31" y2="436.1" stroke="#e24e52" stroke-width="0.8" opacity="0.85"/>
<rect x="745.56" y="430.5" width="1.5" height="4.0" fill="#e24e52" opacity="0.86"/>
<line x1="748.92" y1="428.9" x2="748.92" y2="431.7" stroke="#e24e52" stroke-width="0.8" opacity="0.85"/>
<rect x="748.17" y="429.6" width="1.5" height="1.0" fill="#e24e52" opacity="0.86"/>
<line x1="751.52" y1="426.0" x2="751.52" y2="433.6" stroke="#e24e52" stroke-width="0.8" opacity="0.85"/>
<rect x="750.77" y="426.9" width="1.5" height="5.4" fill="#e24e52" opacity="0.86"/>
<line x1="754.12" y1="425.8" x2="754.12" y2="432.1" stroke="#48a866" stroke-width="0.8" opacity="0.85"/>
<rect x="753.38" y="427.1" width="1.5" height="3.9" fill="#48a866" opacity="0.86"/>
<line x1="756.73" y1="420.6" x2="756.73" y2="428.8" stroke="#48a866" stroke-width="0.8" opacity="0.85"/>
<rect x="755.98" y="421.3" width="1.5" height="6.2" fill="#48a866" opacity="0.86"/>
<line x1="759.33" y1="420.5" x2="759.33" y2="427.3" stroke="#e24e52" stroke-width="0.8" opacity="0.85"/>
<rect x="758.58" y="422.3" width="1.5" height="3.9" fill="#e24e52" opacity="0.86"/>
<line x1="761.94" y1="422.6" x2="761.94" y2="427.1" stroke="#e24e52" stroke-width="0.8" opacity="0.85"/>
<rect x="761.19" y="424.5" width="1.5" height="1.0" fill="#e24e52" opacity="0.86"/>
<line x1="764.54" y1="421.6" x2="764.54" y2="427.1" stroke="#e24e52" stroke-width="0.8" opacity="0.85"/>
<rect x="763.79" y="423.4" width="1.5" height="2.8" fill="#e24e52" opacity="0.86"/>
<line x1="767.15" y1="420.4" x2="767.15" y2="427.3" stroke="#e24e52" stroke-width="0.8" opacity="0.85"/>
<rect x="766.40" y="422.1" width="1.5" height="4.3" fill="#e24e52" opacity="0.86"/>
<line x1="769.75" y1="423.8" x2="769.75" y2="429.9" stroke="#e24e52" stroke-width="0.8" opacity="0.85"/>
<rect x="769.00" y="424.4" width="1.5" height="4.4" fill="#e24e52" opacity="0.86"/>
<line x1="772.35" y1="423.6" x2="772.35" y2="428.1" stroke="#48a866" stroke-width="0.8" opacity="0.85"/>
<rect x="771.60" y="425.0" width="1.5" height="2.0" fill="#48a866" opacity="0.86"/>
<line x1="774.96" y1="425.0" x2="774.96" y2="427.6" stroke="#e24e52" stroke-width="0.8" opacity="0.85"/>
<rect x="774.21" y="425.5" width="1.5" height="1.0" fill="#e24e52" opacity="0.86"/>
<line x1="777.56" y1="422.6" x2="777.56" y2="429.4" stroke="#48a866" stroke-width="0.8" opacity="0.85"/>
<rect x="776.81" y="423.6" width="1.5" height="5.4" fill="#48a866" opacity="0.86"/>
<line x1="780.17" y1="417.9" x2="780.17" y2="427.8" stroke="#48a866" stroke-width="0.8" opacity="0.85"/>
<rect x="779.42" y="419.4" width="1.5" height="7.5" fill="#48a866" opacity="0.86"/>
<line x1="782.77" y1="417.7" x2="782.77" y2="423.5" stroke="#e24e52" stroke-width="0.8" opacity="0.85"/>
<rect x="782.02" y="419.0" width="1.5" height="3.8" fill="#e24e52" opacity="0.86"/>
<line x1="785.38" y1="421.5" x2="785.38" y2="424.5" stroke="#48a866" stroke-width="0.8" opacity="0.85"/>
<rect x="784.62" y="422.0" width="1.5" height="1.8" fill="#48a866" opacity="0.86"/>
<line x1="787.98" y1="420.6" x2="787.98" y2="423.6" stroke="#48a866" stroke-width="0.8" opacity="0.85"/>
<rect x="787.23" y="421.4" width="1.5" height="1.3" fill="#48a866" opacity="0.86"/>
<line x1="790.58" y1="417.4" x2="790.58" y2="424.2" stroke="#e24e52" stroke-width="0.8" opacity="0.85"/>
<rect x="789.83" y="418.2" width="1.5" height="5.6" fill="#e24e52" opacity="0.86"/>
<line x1="793.19" y1="421.2" x2="793.19" y2="427.4" stroke="#e24e52" stroke-width="0.8" opacity="0.85"/>
<rect x="792.44" y="421.9" width="1.5" height="4.4" fill="#e24e52" opacity="0.86"/>
<line x1="795.79" y1="424.4" x2="795.79" y2="435.6" stroke="#e24e52" stroke-width="0.8" opacity="0.85"/>
<rect x="795.04" y="425.6" width="1.5" height="8.8" fill="#e24e52" opacity="0.86"/>
<line x1="798.40" y1="430.8" x2="798.40" y2="435.5" stroke="#48a866" stroke-width="0.8" opacity="0.85"/>
<rect x="797.65" y="431.7" width="1.5" height="2.4" fill="#48a866" opacity="0.86"/>
<line x1="801.00" y1="431.2" x2="801.00" y2="433.0" stroke="#48a866" stroke-width="0.8" opacity="0.85"/>
<rect x="800.25" y="431.5" width="1.5" height="1.0" fill="#48a866" opacity="0.86"/>
<line x1="803.60" y1="431.5" x2="803.60" y2="434.8" stroke="#48a866" stroke-width="0.8" opacity="0.85"/>
<rect x="802.85" y="431.9" width="1.5" height="1.9" fill="#48a866" opacity="0.86"/>
<line x1="806.21" y1="430.1" x2="806.21" y2="436.0" stroke="#48a866" stroke-width="0.8" opacity="0.85"/>
<rect x="805.46" y="431.1" width="1.5" height="3.2" fill="#48a866" opacity="0.86"/>
<line x1="808.81" y1="426.4" x2="808.81" y2="433.4" stroke="#48a866" stroke-width="0.8" opacity="0.85"/>
<rect x="808.06" y="427.5" width="1.5" height="5.5" fill="#48a866" opacity="0.86"/>
<line x1="811.42" y1="427.1" x2="811.42" y2="430.5" stroke="#e24e52" stroke-width="0.8" opacity="0.85"/>
<rect x="810.67" y="427.5" width="1.5" height="2.5" fill="#e24e52" opacity="0.86"/>
<line x1="814.02" y1="426.5" x2="814.02" y2="433.0" stroke="#e24e52" stroke-width="0.8" opacity="0.85"/>
<rect x="813.27" y="428.2" width="1.5" height="3.3" fill="#e24e52" opacity="0.86"/>
<line x1="816.62" y1="429.9" x2="816.62" y2="434.6" stroke="#48a866" stroke-width="0.8" opacity="0.85"/>
<rect x="815.88" y="431.1" width="1.5" height="2.2" fill="#48a866" opacity="0.86"/>
<line x1="819.23" y1="426.2" x2="819.23" y2="432.8" stroke="#48a866" stroke-width="0.8" opacity="0.85"/>
<rect x="818.48" y="427.5" width="1.5" height="5.0" fill="#48a866" opacity="0.86"/>
<line x1="821.83" y1="427.3" x2="821.83" y2="433.5" stroke="#e24e52" stroke-width="0.8" opacity="0.85"/>
<rect x="821.08" y="428.4" width="1.5" height="4.2" fill="#e24e52" opacity="0.86"/>
<line x1="824.44" y1="431.8" x2="824.44" y2="434.5" stroke="#e24e52" stroke-width="0.8" opacity="0.85"/>
<rect x="823.69" y="432.9" width="1.5" height="1.0" fill="#e24e52" opacity="0.86"/>
<line x1="827.04" y1="429.9" x2="827.04" y2="433.3" stroke="#e24e52" stroke-width="0.8" opacity="0.85"/>
<rect x="826.29" y="430.1" width="1.5" height="1.8" fill="#e24e52" opacity="0.86"/>
<line x1="829.65" y1="428.7" x2="829.65" y2="433.8" stroke="#48a866" stroke-width="0.8" opacity="0.85"/>
<rect x="828.90" y="430.0" width="1.5" height="3.4" fill="#48a866" opacity="0.86"/>
<line x1="832.25" y1="424.6" x2="832.25" y2="430.5" stroke="#48a866" stroke-width="0.8" opacity="0.85"/>
<rect x="831.50" y="425.1" width="1.5" height="3.9" fill="#48a866" opacity="0.86"/>
<line x1="834.85" y1="424.2" x2="834.85" y2="430.8" stroke="#48a866" stroke-width="0.8" opacity="0.85"/>
<rect x="834.10" y="425.0" width="1.5" height="5.3" fill="#48a866" opacity="0.86"/>
<line x1="837.46" y1="425.0" x2="837.46" y2="429.3" stroke="#e24e52" stroke-width="0.8" opacity="0.85"/>
<rect x="836.71" y="426.9" width="1.5" height="2.0" fill="#e24e52" opacity="0.86"/>
<line x1="840.06" y1="425.2" x2="840.06" y2="429.9" stroke="#48a866" stroke-width="0.8" opacity="0.85"/>
<rect x="839.31" y="425.4" width="1.5" height="3.1" fill="#48a866" opacity="0.86"/>
<line x1="842.67" y1="423.2" x2="842.67" y2="426.1" stroke="#48a866" stroke-width="0.8" opacity="0.85"/>
<rect x="841.92" y="423.7" width="1.5" height="2.1" fill="#48a866" opacity="0.86"/>
<line x1="845.27" y1="421.6" x2="845.27" y2="428.2" stroke="#48a866" stroke-width="0.8" opacity="0.85"/>
<rect x="844.52" y="422.5" width="1.5" height="4.5" fill="#48a866" opacity="0.86"/>
<line x1="847.88" y1="416.0" x2="847.88" y2="426.5" stroke="#48a866" stroke-width="0.8" opacity="0.85"/>
<rect x="847.12" y="418.0" width="1.5" height="8.0" fill="#48a866" opacity="0.86"/>
<line x1="850.48" y1="418.0" x2="850.48" y2="425.5" stroke="#e24e52" stroke-width="0.8" opacity="0.85"/>
<rect x="849.73" y="419.0" width="1.5" height="5.0" fill="#e24e52" opacity="0.86"/>
<line x1="853.08" y1="417.5" x2="853.08" y2="426.0" stroke="#48a866" stroke-width="0.8" opacity="0.85"/>
<rect x="852.33" y="418.0" width="1.5" height="7.0" fill="#48a866" opacity="0.86"/>
<line x1="855.69" y1="416.5" x2="855.69" y2="425.0" stroke="#e24e52" stroke-width="0.8" opacity="0.85"/>
<rect x="854.94" y="417.3" width="1.5" height="7.1" fill="#e24e52" opacity="0.86"/>
<line x1="858.29" y1="423.0" x2="858.29" y2="430.6" stroke="#e24e52" stroke-width="0.8" opacity="0.85"/>
<rect x="857.54" y="423.8" width="1.5" height="3.7" fill="#e24e52" opacity="0.86"/>
<line x1="860.90" y1="404.0" x2="860.90" y2="427.5" stroke="#48a866" stroke-width="0.8" opacity="0.85"/>
<rect x="860.15" y="404.5" width="1.5" height="22.5" fill="#48a866" opacity="0.86"/>
<line x1="863.50" y1="402.0" x2="863.50" y2="410.9" stroke="#e24e52" stroke-width="0.8" opacity="0.85"/>
<rect x="862.75" y="403.8" width="1.5" height="6.8" fill="#e24e52" opacity="0.86"/>
<polygon fill="#778028" points="0.0,702.0 20.0,701.6 40.0,701.3 50.0,702.4 60.0,703.0 80.0,702.6 95.0,703.0 100.0,704.5 105.0,706.0 112.0,706.4 118.0,706.8 125.0,708.0 137.0,708.0 140.0,706.0 142.0,705.0 155.0,704.8 165.0,705.0 172.0,706.0 180.0,707.5 195.0,707.2 212.0,707.0 216.0,706.0 220.0,705.0 235.0,704.6 256.0,704.5 300.0,704.0 340.0,704.2 380.0,703.8 420.0,704.0 445.0,704.0 452.0,705.0 480.0,705.0 512.0,705.0 560.0,704.8 600.0,704.6 647.0,704.0 700.0,704.6 742.0,705.0 748.0,706.5 754.5,708.5 800.0,709.0 840.0,709.3 855.0,709.0 862.0,709.8 863.5,710.5 863.5,777 0,777"/>
<polygon fill="#9c1a49" points="0,777 863.5,777 863.5,786.6 845.0,786.6 830.0,786.0 800.0,785.8 740.0,785.6 680.0,786.0 600.0,786.4 540.0,786.8 500.0,786.3 400.0,786.0 300.0,786.4 220.0,786.8 212.0,786.4 180.0,787.0 150.0,786.6 115.0,786.2 108.0,785.4 100.0,785.8 60.0,786.5 40.0,785.6 0.0,786.0"/>
<line x1="0" y1="777" x2="863.5" y2="777" stroke="#8d2a3c" stroke-width="1" stroke-dasharray="1.5 2" opacity="0.7"/>
<polyline fill="none" stroke="#dde39a" stroke-width="1.3" points="0.0,702.0 20.0,701.6 40.0,701.3 50.0,702.4 60.0,703.0 80.0,702.6 95.0,703.0 100.0,704.5 105.0,706.0 112.0,706.4 118.0,706.8 125.0,708.0 137.0,708.0 140.0,706.0 142.0,705.0 155.0,704.8 165.0,705.0 172.0,706.0 180.0,707.5 195.0,707.2 212.0,707.0 216.0,706.0 220.0,705.0 235.0,704.6 256.0,704.5 300.0,704.0 340.0,704.2 380.0,703.8 420.0,704.0 445.0,704.0 452.0,705.0 480.0,705.0 512.0,705.0 560.0,704.8 600.0,704.6 647.0,704.0 700.0,704.6 742.0,705.0 748.0,706.5 754.5,708.5 800.0,709.0 840.0,709.3 855.0,709.0 862.0,709.8 863.5,710.5"/>
<polyline fill="none" stroke="#cf74a0" stroke-width="1" points="0.0,786.0 40.0,785.6 60.0,786.5 100.0,785.8 108.0,785.4 115.0,786.2 150.0,786.6 180.0,787.0 212.0,786.4 220.0,786.8 300.0,786.4 400.0,786.0 500.0,786.3 540.0,786.8 600.0,786.4 680.0,786.0 740.0,785.6 800.0,785.8 830.0,786.0 845.0,786.6 863.5,786.6"/>
<line x1="863" y1="710" x2="863" y2="777" stroke="#a2ab5e" stroke-width="1"/>
<line x1="863" y1="777" x2="863" y2="786.4" stroke="#b55088" stroke-width="1"/>
<line x1="866" y1="777" x2="986" y2="777" stroke="#1e1e27" stroke-width="1" stroke-dasharray="1.5 3"/>
<rect x="0" y="801" width="1024" height="20" fill="#0e0e14"/>
<rect x="987" y="5" width="37" height="796" fill="#0e0e14"/>
<line x1="986.5" y1="4" x2="986.5" y2="801" stroke="#15151e" stroke-width="1"/>
<line x1="0" y1="682.5" x2="1024" y2="682.5" stroke="#15151d" stroke-width="1"/>
<line x1="0" y1="800.5" x2="1024" y2="800.5" stroke="#15151d" stroke-width="1"/>
<text x="990" y="68.5" font-family="'DejaVu Sans Mono','Liberation Mono',monospace" font-size="8.2" fill="#7d7f8a">2.0000</text>
<text x="990" y="207.0" font-family="'DejaVu Sans Mono','Liberation Mono',monospace" font-size="8.2" fill="#7d7f8a">1.8000</text>
<text x="990" y="345.3" font-family="'DejaVu Sans Mono','Liberation Mono',monospace" font-size="8.2" fill="#7d7f8a">1.6000</text>
<text x="990" y="483.7" font-family="'DejaVu Sans Mono','Liberation Mono',monospace" font-size="8.2" fill="#7d7f8a">1.4000</text>
<text x="990" y="622.0" font-family="'DejaVu Sans Mono','Liberation Mono',monospace" font-size="8.2" fill="#7d7f8a">1.2000</text>
<text x="990" y="712.5" font-family="'DejaVu Sans Mono','Liberation Mono',monospace" font-size="8.2" fill="#7d7f8a">75.0M</text>
<text x="990" y="735.0" font-family="'DejaVu Sans Mono','Liberation Mono',monospace" font-size="8.2" fill="#7d7f8a">50.0M</text>
<text x="990" y="757.5" font-family="'DejaVu Sans Mono','Liberation Mono',monospace" font-size="8.2" fill="#7d7f8a">25.0M</text>
<text x="990" y="780.0" font-family="'DejaVu Sans Mono','Liberation Mono',monospace" font-size="8.2" fill="#7d7f8a">0.000</text>
<text x="17.4" y="815" text-anchor="end" font-family="'DejaVu Sans Mono','Liberation Mono',monospace" font-size="9" fill="#b9bbc6">r 13</text>
<text x="82.0" y="815" text-anchor="middle" font-family="'DejaVu Sans Mono','Liberation Mono',monospace" font-size="9" fill="#6a6c78">12:00</text>
<text x="144.5" y="815" text-anchor="middle" font-family="'DejaVu Sans Mono','Liberation Mono',monospace" font-size="9" fill="#6a6c78">18:00</text>
<text x="207.0" y="815" text-anchor="middle" font-family="'DejaVu Sans Mono','Liberation Mono',monospace" font-size="9" fill="#b9bbc6">Mar 14</text>
<text x="269.5" y="815" text-anchor="middle" font-family="'DejaVu Sans Mono','Liberation Mono',monospace" font-size="9" fill="#6a6c78">06:00</text>
<text x="332.0" y="815" text-anchor="middle" font-family="'DejaVu Sans Mono','Liberation Mono',monospace" font-size="9" fill="#6a6c78">12:00</text>
<text x="394.5" y="815" text-anchor="middle" font-family="'DejaVu Sans Mono','Liberation Mono',monospace" font-size="9" fill="#6a6c78">18:00</text>
<text x="457.0" y="815" text-anchor="middle" font-family="'DejaVu Sans Mono','Liberation Mono',monospace" font-size="9" fill="#b9bbc6">Mar 15</text>
<text x="519.5" y="815" text-anchor="middle" font-family="'DejaVu Sans Mono','Liberation Mono',monospace" font-size="9" fill="#6a6c78">06:00</text>
<text x="582.0" y="815" text-anchor="middle" font-family="'DejaVu Sans Mono','Liberation Mono',monospace" font-size="9" fill="#6a6c78">12:00</text>
<text x="644.5" y="815" text-anchor="middle" font-family="'DejaVu Sans Mono','Liberation Mono',monospace" font-size="9" fill="#6a6c78">18:00</text>
<text x="707.0" y="815" text-anchor="middle" font-family="'DejaVu Sans Mono','Liberation Mono',monospace" font-size="9" fill="#b9bbc6">Mar 16</text>
<text x="769.5" y="815" text-anchor="middle" font-family="'DejaVu Sans Mono','Liberation Mono',monospace" font-size="9" fill="#6a6c78">06:00</text>
<text x="832.0" y="815" text-anchor="middle" font-family="'DejaVu Sans Mono','Liberation Mono',monospace" font-size="9" fill="#6a6c78">12:00</text>
<text x="894.5" y="815" text-anchor="middle" font-family="'DejaVu Sans Mono','Liberation Mono',monospace" font-size="9" fill="#6a6c78">18:00</text>
<text x="957.0" y="815" text-anchor="middle" font-family="'DejaVu Sans Mono','Liberation Mono',monospace" font-size="9" fill="#b9bbc6">Mar 17</text>
<path d="M988.5,405 h32.5 a2,2 0 0 1 2,2 v7 a2,2 0 0 1 -2,2 h-3 v9 a2,2 0 0 1 -2,2 h-27.5 a2,2 0 0 1 -2,-2 v-18 a2,2 0 0 1 2,-2 z" fill="#e0393c"/>
<text x="990" y="413.7" font-family="'DejaVu Sans Mono','Liberation Mono',monospace" font-size="8.2" fill="#ffd9d6">1.5012</text>
<text x="990" y="424.7" font-family="'DejaVu Sans Mono','Liberation Mono',monospace" font-size="8.2" fill="#ffd9d6">12:21</text>
</svg>
<div class="hdr"><span class="sym">XRP/USD</span></div>
<div class="hdr dim dot" style="left:82.2px">·</div>
<div class="hdr dim tf" style="left:97.6px">15M</div>
<div class="hdr dim dot" style="left:130.2px">·</div>
<div class="hdr dim" style="left:145px">COINBASE</div>
<div class="spot">SPOT</div>
<div class="sub" style="top:28.6px">Orderbook Heatmap</div>
<div class="sub" style="top:47.4px">Order Book Suite</div>
</body></html>
